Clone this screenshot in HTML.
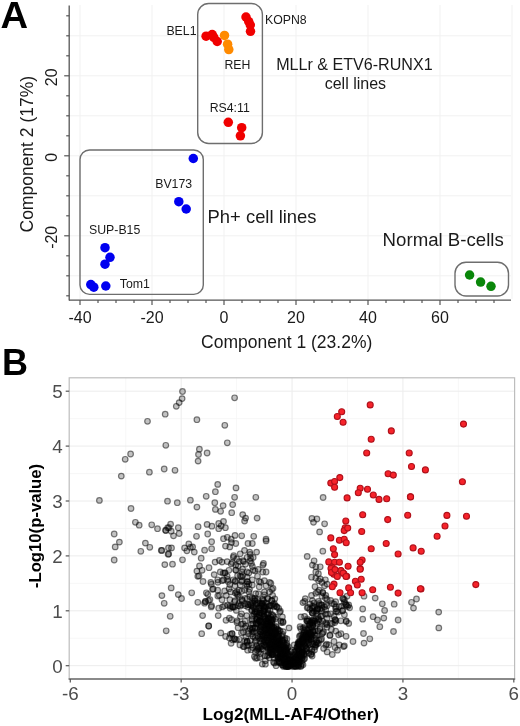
<!DOCTYPE html>
<html><head><meta charset="utf-8"><style>
html,body{margin:0;padding:0;background:#fff;}
svg{display:block;font-family:"Liberation Sans", sans-serif;filter:blur(0.45px);}
.g{fill:rgba(0,0,0,0.24);stroke:rgba(0,0,0,0.5);stroke-width:1.2;}
.r{fill:#f6232a;stroke:#b0101a;stroke-width:1.1;}
</style></head><body>
<svg width="520" height="726" viewBox="0 0 520 726">
<line x1="80.0" y1="5" x2="80.0" y2="299" stroke="#f1f1f1" stroke-width="1"/>
<line x1="152.0" y1="5" x2="152.0" y2="299" stroke="#f1f1f1" stroke-width="1"/>
<line x1="224.0" y1="5" x2="224.0" y2="299" stroke="#f1f1f1" stroke-width="1"/>
<line x1="296.0" y1="5" x2="296.0" y2="299" stroke="#f1f1f1" stroke-width="1"/>
<line x1="368.0" y1="5" x2="368.0" y2="299" stroke="#f1f1f1" stroke-width="1"/>
<line x1="440.0" y1="5" x2="440.0" y2="299" stroke="#f1f1f1" stroke-width="1"/>
<line x1="512.0" y1="5" x2="512.0" y2="299" stroke="#f1f1f1" stroke-width="1"/>
<line x1="70" y1="35.80000000000001" x2="511" y2="35.80000000000001" stroke="#f1f1f1" stroke-width="1"/>
<line x1="70" y1="75.80000000000001" x2="511" y2="75.80000000000001" stroke="#f1f1f1" stroke-width="1"/>
<line x1="70" y1="115.80000000000001" x2="511" y2="115.80000000000001" stroke="#f1f1f1" stroke-width="1"/>
<line x1="70" y1="155.8" x2="511" y2="155.8" stroke="#f1f1f1" stroke-width="1"/>
<line x1="70" y1="195.8" x2="511" y2="195.8" stroke="#f1f1f1" stroke-width="1"/>
<line x1="70" y1="235.8" x2="511" y2="235.8" stroke="#f1f1f1" stroke-width="1"/>
<line x1="70" y1="275.8" x2="511" y2="275.8" stroke="#f1f1f1" stroke-width="1"/>
<line x1="69.2" y1="5.5" x2="69.2" y2="300.6" stroke="#555" stroke-width="1.3"/>
<line x1="69" y1="300.1" x2="511" y2="300.1" stroke="#555" stroke-width="1.3"/>
<line x1="66.2" y1="15.800000000000011" x2="69.2" y2="15.800000000000011" stroke="#555" stroke-width="1.2"/>
<line x1="66.2" y1="35.80000000000001" x2="69.2" y2="35.80000000000001" stroke="#555" stroke-width="1.2"/>
<line x1="66.2" y1="55.80000000000001" x2="69.2" y2="55.80000000000001" stroke="#555" stroke-width="1.2"/>
<line x1="64.2" y1="75.80000000000001" x2="69.2" y2="75.80000000000001" stroke="#555" stroke-width="1.2"/>
<line x1="66.2" y1="95.80000000000001" x2="69.2" y2="95.80000000000001" stroke="#555" stroke-width="1.2"/>
<line x1="66.2" y1="115.80000000000001" x2="69.2" y2="115.80000000000001" stroke="#555" stroke-width="1.2"/>
<line x1="66.2" y1="135.8" x2="69.2" y2="135.8" stroke="#555" stroke-width="1.2"/>
<line x1="64.2" y1="155.8" x2="69.2" y2="155.8" stroke="#555" stroke-width="1.2"/>
<line x1="66.2" y1="175.8" x2="69.2" y2="175.8" stroke="#555" stroke-width="1.2"/>
<line x1="66.2" y1="195.8" x2="69.2" y2="195.8" stroke="#555" stroke-width="1.2"/>
<line x1="66.2" y1="215.8" x2="69.2" y2="215.8" stroke="#555" stroke-width="1.2"/>
<line x1="64.2" y1="235.8" x2="69.2" y2="235.8" stroke="#555" stroke-width="1.2"/>
<line x1="66.2" y1="255.8" x2="69.2" y2="255.8" stroke="#555" stroke-width="1.2"/>
<line x1="66.2" y1="275.8" x2="69.2" y2="275.8" stroke="#555" stroke-width="1.2"/>
<line x1="66.2" y1="295.8" x2="69.2" y2="295.8" stroke="#555" stroke-width="1.2"/>
<line x1="80.0" y1="300.1" x2="80.0" y2="305.1" stroke="#555" stroke-width="1.2"/>
<line x1="98.0" y1="300.1" x2="98.0" y2="303.1" stroke="#555" stroke-width="1.2"/>
<line x1="116.0" y1="300.1" x2="116.0" y2="303.1" stroke="#555" stroke-width="1.2"/>
<line x1="134.0" y1="300.1" x2="134.0" y2="303.1" stroke="#555" stroke-width="1.2"/>
<line x1="152.0" y1="300.1" x2="152.0" y2="305.1" stroke="#555" stroke-width="1.2"/>
<line x1="170.0" y1="300.1" x2="170.0" y2="303.1" stroke="#555" stroke-width="1.2"/>
<line x1="188.0" y1="300.1" x2="188.0" y2="303.1" stroke="#555" stroke-width="1.2"/>
<line x1="206.0" y1="300.1" x2="206.0" y2="303.1" stroke="#555" stroke-width="1.2"/>
<line x1="224.0" y1="300.1" x2="224.0" y2="305.1" stroke="#555" stroke-width="1.2"/>
<line x1="242.0" y1="300.1" x2="242.0" y2="303.1" stroke="#555" stroke-width="1.2"/>
<line x1="260.0" y1="300.1" x2="260.0" y2="303.1" stroke="#555" stroke-width="1.2"/>
<line x1="278.0" y1="300.1" x2="278.0" y2="303.1" stroke="#555" stroke-width="1.2"/>
<line x1="296.0" y1="300.1" x2="296.0" y2="305.1" stroke="#555" stroke-width="1.2"/>
<line x1="314.0" y1="300.1" x2="314.0" y2="303.1" stroke="#555" stroke-width="1.2"/>
<line x1="332.0" y1="300.1" x2="332.0" y2="303.1" stroke="#555" stroke-width="1.2"/>
<line x1="350.0" y1="300.1" x2="350.0" y2="303.1" stroke="#555" stroke-width="1.2"/>
<line x1="368.0" y1="300.1" x2="368.0" y2="305.1" stroke="#555" stroke-width="1.2"/>
<line x1="386.0" y1="300.1" x2="386.0" y2="303.1" stroke="#555" stroke-width="1.2"/>
<line x1="404.0" y1="300.1" x2="404.0" y2="303.1" stroke="#555" stroke-width="1.2"/>
<line x1="422.0" y1="300.1" x2="422.0" y2="303.1" stroke="#555" stroke-width="1.2"/>
<line x1="440.0" y1="300.1" x2="440.0" y2="305.1" stroke="#555" stroke-width="1.2"/>
<line x1="458.0" y1="300.1" x2="458.0" y2="303.1" stroke="#555" stroke-width="1.2"/>
<line x1="476.0" y1="300.1" x2="476.0" y2="303.1" stroke="#555" stroke-width="1.2"/>
<line x1="494.0" y1="300.1" x2="494.0" y2="303.1" stroke="#555" stroke-width="1.2"/>
<text x="80.0" y="322.5" font-size="16" text-anchor="middle" fill="#1a1a1a">-40</text>
<text x="152.0" y="322.5" font-size="16" text-anchor="middle" fill="#1a1a1a">-20</text>
<text x="224.0" y="322.5" font-size="16" text-anchor="middle" fill="#1a1a1a">0</text>
<text x="296.0" y="322.5" font-size="16" text-anchor="middle" fill="#1a1a1a">20</text>
<text x="368.0" y="322.5" font-size="16" text-anchor="middle" fill="#1a1a1a">40</text>
<text x="440.0" y="322.5" font-size="16" text-anchor="middle" fill="#1a1a1a">60</text>
<text transform="translate(57.3,77.30000000000001) rotate(-90)" font-size="16" text-anchor="middle" fill="#1a1a1a">20</text>
<text transform="translate(57.3,157.3) rotate(-90)" font-size="16" text-anchor="middle" fill="#1a1a1a">0</text>
<text transform="translate(57.3,237.3) rotate(-90)" font-size="16" text-anchor="middle" fill="#1a1a1a">-20</text>
<text x="286.7" y="348.3" font-size="17.5" text-anchor="middle" fill="#1a1a1a">Component 1 (23.2%)</text>
<text transform="translate(33.4,154.2) rotate(-90)" font-size="17.5" text-anchor="middle" fill="#1a1a1a">Component 2 (17%)</text>
<rect x="197.7" y="3.5" width="64.7" height="140" rx="11" ry="11" fill="none" stroke="#6e6e6e" stroke-width="1.4"/>
<rect x="80" y="150" width="123.3" height="144.4" rx="9.5" ry="9.5" fill="none" stroke="#6e6e6e" stroke-width="1.4"/>
<rect x="455" y="262.3" width="53.5" height="33.7" rx="11" ry="11" fill="none" stroke="#6e6e6e" stroke-width="1.4"/>
<circle cx="246" cy="17" r="4.75" fill="#f00000"/>
<circle cx="248.7" cy="21.5" r="4.75" fill="#f00000"/>
<circle cx="250.3" cy="25" r="4.75" fill="#f00000"/>
<circle cx="250.5" cy="31.3" r="4.75" fill="#f00000"/>
<circle cx="206.1" cy="36.2" r="4.75" fill="#f00000"/>
<circle cx="212.2" cy="34.6" r="4.75" fill="#f00000"/>
<circle cx="213.8" cy="37.3" r="4.75" fill="#f00000"/>
<circle cx="217.2" cy="41.5" r="4.75" fill="#f00000"/>
<circle cx="228.3" cy="122.3" r="4.75" fill="#f00000"/>
<circle cx="241.7" cy="127.7" r="4.75" fill="#f00000"/>
<circle cx="240.4" cy="135.8" r="4.75" fill="#f00000"/>
<circle cx="224.5" cy="35.4" r="4.75" fill="#ff8a00"/>
<circle cx="227.6" cy="44.2" r="4.75" fill="#ff8a00"/>
<circle cx="228.8" cy="49.6" r="4.75" fill="#ff8a00"/>
<circle cx="193.3" cy="158.5" r="4.75" fill="#0000f0"/>
<circle cx="178.8" cy="201.7" r="4.75" fill="#0000f0"/>
<circle cx="186.2" cy="209" r="4.75" fill="#0000f0"/>
<circle cx="105" cy="247.7" r="4.75" fill="#0000f0"/>
<circle cx="110" cy="257.3" r="4.75" fill="#0000f0"/>
<circle cx="105" cy="264.2" r="4.75" fill="#0000f0"/>
<circle cx="90.8" cy="284.6" r="4.75" fill="#0000f0"/>
<circle cx="93.8" cy="287.2" r="4.75" fill="#0000f0"/>
<circle cx="105.8" cy="286" r="4.75" fill="#0000f0"/>
<circle cx="469.6" cy="275" r="4.75" fill="#0a870a"/>
<circle cx="480.6" cy="282.1" r="4.75" fill="#0a870a"/>
<circle cx="491" cy="286.3" r="4.75" fill="#0a870a"/>
<text x="166.4" y="35.1" font-size="12.3" fill="#1a1a1a">BEL1</text>
<text x="265.0" y="23.5" font-size="12.3" fill="#1a1a1a">KOPN8</text>
<text x="224.4" y="68.6" font-size="12.3" fill="#1a1a1a">REH</text>
<text x="209.7" y="111.5" font-size="12.3" fill="#1a1a1a">RS4:11</text>
<text x="155.2" y="188.1" font-size="12.3" fill="#1a1a1a">BV173</text>
<text x="89.0" y="234.0" font-size="12.3" fill="#1a1a1a">SUP-B15</text>
<text x="119.8" y="287.6" font-size="12.3" fill="#1a1a1a">Tom1</text>
<text x="354.4" y="70.2" font-size="16.1" text-anchor="middle" fill="#1a1a1a">MLLr &amp; ETV6-RUNX1</text>
<text x="355.4" y="89.4" font-size="16" text-anchor="middle" fill="#1a1a1a">cell lines</text>
<text x="207.6" y="223" font-size="18.4" fill="#1a1a1a">Ph+ cell lines</text>
<text x="382.6" y="245.8" font-size="18.65" fill="#1a1a1a">Normal B-cells</text>
<text x="0.6" y="27.8" font-size="36" font-weight="bold" fill="#000" textLength="27.6" lengthAdjust="spacingAndGlyphs">A</text>
<line x1="125.73000000000002" y1="377.8" x2="125.73000000000002" y2="679.0" stroke="#f5f5f5" stroke-width="0.8"/>
<line x1="236.61" y1="377.8" x2="236.61" y2="679.0" stroke="#f5f5f5" stroke-width="0.8"/>
<line x1="347.49" y1="377.8" x2="347.49" y2="679.0" stroke="#f5f5f5" stroke-width="0.8"/>
<line x1="458.37" y1="377.8" x2="458.37" y2="679.0" stroke="#f5f5f5" stroke-width="0.8"/>
<line x1="69.2" y1="638.25" x2="514.6" y2="638.25" stroke="#f5f5f5" stroke-width="0.8"/>
<line x1="69.2" y1="583.35" x2="514.6" y2="583.35" stroke="#f5f5f5" stroke-width="0.8"/>
<line x1="69.2" y1="528.45" x2="514.6" y2="528.45" stroke="#f5f5f5" stroke-width="0.8"/>
<line x1="69.2" y1="473.55000000000007" x2="514.6" y2="473.55000000000007" stroke="#f5f5f5" stroke-width="0.8"/>
<line x1="69.2" y1="418.6500000000001" x2="514.6" y2="418.6500000000001" stroke="#f5f5f5" stroke-width="0.8"/>
<line x1="181.17000000000002" y1="377.8" x2="181.17000000000002" y2="679.0" stroke="#ececec" stroke-width="1"/>
<line x1="292.05" y1="377.8" x2="292.05" y2="679.0" stroke="#ececec" stroke-width="1"/>
<line x1="402.93" y1="377.8" x2="402.93" y2="679.0" stroke="#ececec" stroke-width="1"/>
<line x1="69.2" y1="665.7" x2="514.6" y2="665.7" stroke="#ececec" stroke-width="1"/>
<line x1="69.2" y1="610.8000000000001" x2="514.6" y2="610.8000000000001" stroke="#ececec" stroke-width="1"/>
<line x1="69.2" y1="555.9000000000001" x2="514.6" y2="555.9000000000001" stroke="#ececec" stroke-width="1"/>
<line x1="69.2" y1="501.00000000000006" x2="514.6" y2="501.00000000000006" stroke="#ececec" stroke-width="1"/>
<line x1="69.2" y1="446.1" x2="514.6" y2="446.1" stroke="#ececec" stroke-width="1"/>
<line x1="69.2" y1="391.20000000000005" x2="514.6" y2="391.20000000000005" stroke="#ececec" stroke-width="1"/>
<circle cx="165.2" cy="414.2" r="2.8" class="g"/>
<circle cx="147.5" cy="421.3" r="2.8" class="g"/>
<circle cx="165.8" cy="445.3" r="2.8" class="g"/>
<circle cx="130.6" cy="454.0" r="2.8" class="g"/>
<circle cx="125.2" cy="459.3" r="2.8" class="g"/>
<circle cx="164.2" cy="469.0" r="2.8" class="g"/>
<circle cx="149.4" cy="472.2" r="2.8" class="g"/>
<circle cx="121.3" cy="476.1" r="2.8" class="g"/>
<circle cx="182.5" cy="391.5" r="2.8" class="g"/>
<circle cx="182.1" cy="398.6" r="2.8" class="g"/>
<circle cx="179.2" cy="402.6" r="2.8" class="g"/>
<circle cx="176.3" cy="406.3" r="2.8" class="g"/>
<circle cx="234.6" cy="397.8" r="2.8" class="g"/>
<circle cx="196.9" cy="419.7" r="2.8" class="g"/>
<circle cx="224.8" cy="425.3" r="2.8" class="g"/>
<circle cx="227.3" cy="442.8" r="2.8" class="g"/>
<circle cx="199.4" cy="449.2" r="2.8" class="g"/>
<circle cx="207.1" cy="453.0" r="2.8" class="g"/>
<circle cx="198.5" cy="454.5" r="2.8" class="g"/>
<circle cx="198.1" cy="461.1" r="2.8" class="g"/>
<circle cx="175.0" cy="470.3" r="2.8" class="g"/>
<circle cx="99.4" cy="500.4" r="2.8" class="g"/>
<circle cx="167.5" cy="501.2" r="2.8" class="g"/>
<circle cx="131.0" cy="508.5" r="2.8" class="g"/>
<circle cx="135.4" cy="522.3" r="2.8" class="g"/>
<circle cx="139.2" cy="525.2" r="2.8" class="g"/>
<circle cx="151.7" cy="524.8" r="2.8" class="g"/>
<circle cx="157.5" cy="528.7" r="2.8" class="g"/>
<circle cx="165.6" cy="530.2" r="2.8" class="g"/>
<circle cx="169.0" cy="527.7" r="2.8" class="g"/>
<circle cx="114.2" cy="534.0" r="2.8" class="g"/>
<circle cx="119.4" cy="542.1" r="2.8" class="g"/>
<circle cx="115.2" cy="546.9" r="2.8" class="g"/>
<circle cx="145.4" cy="543.1" r="2.8" class="g"/>
<circle cx="149.8" cy="547.3" r="2.8" class="g"/>
<circle cx="140.8" cy="551.3" r="2.8" class="g"/>
<circle cx="161.3" cy="550.4" r="2.8" class="g"/>
<circle cx="168.5" cy="547.9" r="2.8" class="g"/>
<circle cx="168.1" cy="554.2" r="2.8" class="g"/>
<circle cx="114.2" cy="560.0" r="2.8" class="g"/>
<circle cx="164.8" cy="564.6" r="2.8" class="g"/>
<circle cx="217.7" cy="484.4" r="2.8" class="g"/>
<circle cx="236.0" cy="487.9" r="2.8" class="g"/>
<circle cx="215.4" cy="491.7" r="2.8" class="g"/>
<circle cx="206.2" cy="496.3" r="2.8" class="g"/>
<circle cx="234.6" cy="497.3" r="2.8" class="g"/>
<circle cx="255.8" cy="497.3" r="2.8" class="g"/>
<circle cx="177.3" cy="502.7" r="2.8" class="g"/>
<circle cx="190.4" cy="500.2" r="2.8" class="g"/>
<circle cx="196.9" cy="507.1" r="2.8" class="g"/>
<circle cx="214.8" cy="502.7" r="2.8" class="g"/>
<circle cx="223.1" cy="505.6" r="2.8" class="g"/>
<circle cx="232.7" cy="504.6" r="2.8" class="g"/>
<circle cx="215.4" cy="509.4" r="2.8" class="g"/>
<circle cx="220.6" cy="511.3" r="2.8" class="g"/>
<circle cx="231.7" cy="512.7" r="2.8" class="g"/>
<circle cx="242.7" cy="514.6" r="2.8" class="g"/>
<circle cx="245.6" cy="518.1" r="2.8" class="g"/>
<circle cx="244.6" cy="521.0" r="2.8" class="g"/>
<circle cx="257.1" cy="518.1" r="2.8" class="g"/>
<circle cx="170.6" cy="524.2" r="2.8" class="g"/>
<circle cx="167.7" cy="527.7" r="2.8" class="g"/>
<circle cx="165.8" cy="530.6" r="2.8" class="g"/>
<circle cx="171.2" cy="531.2" r="2.8" class="g"/>
<circle cx="178.3" cy="527.7" r="2.8" class="g"/>
<circle cx="179.2" cy="533.5" r="2.8" class="g"/>
<circle cx="173.5" cy="535.8" r="2.8" class="g"/>
<circle cx="198.1" cy="526.7" r="2.8" class="g"/>
<circle cx="207.1" cy="524.4" r="2.8" class="g"/>
<circle cx="211.9" cy="526.2" r="2.8" class="g"/>
<circle cx="218.7" cy="523.5" r="2.8" class="g"/>
<circle cx="223.5" cy="521.5" r="2.8" class="g"/>
<circle cx="221.2" cy="525.8" r="2.8" class="g"/>
<circle cx="218.7" cy="528.7" r="2.8" class="g"/>
<circle cx="225.4" cy="527.7" r="2.8" class="g"/>
<circle cx="196.5" cy="536.3" r="2.8" class="g"/>
<circle cx="207.7" cy="534.0" r="2.8" class="g"/>
<circle cx="223.5" cy="538.7" r="2.8" class="g"/>
<circle cx="227.3" cy="537.3" r="2.8" class="g"/>
<circle cx="235.0" cy="535.4" r="2.8" class="g"/>
<circle cx="241.7" cy="535.8" r="2.8" class="g"/>
<circle cx="253.7" cy="536.3" r="2.8" class="g"/>
<circle cx="231.2" cy="539.2" r="2.8" class="g"/>
<circle cx="188.8" cy="544.0" r="2.8" class="g"/>
<circle cx="184.6" cy="547.9" r="2.8" class="g"/>
<circle cx="186.9" cy="550.8" r="2.8" class="g"/>
<circle cx="161.9" cy="550.4" r="2.8" class="g"/>
<circle cx="171.5" cy="547.9" r="2.8" class="g"/>
<circle cx="168.7" cy="554.0" r="2.8" class="g"/>
<circle cx="182.5" cy="559.8" r="2.8" class="g"/>
<circle cx="172.5" cy="564.2" r="2.8" class="g"/>
<circle cx="266.0" cy="539.2" r="2.8" class="g"/>
<circle cx="323.1" cy="497.5" r="2.8" class="g"/>
<circle cx="311.9" cy="518.5" r="2.8" class="g"/>
<circle cx="316.9" cy="519.0" r="2.8" class="g"/>
<circle cx="313.5" cy="522.3" r="2.8" class="g"/>
<circle cx="324.6" cy="523.8" r="2.8" class="g"/>
<circle cx="319.6" cy="531.9" r="2.8" class="g"/>
<circle cx="171.2" cy="587.9" r="2.8" class="g"/>
<circle cx="161.9" cy="595.6" r="2.8" class="g"/>
<circle cx="178.3" cy="594.6" r="2.8" class="g"/>
<circle cx="181.5" cy="598.5" r="2.8" class="g"/>
<circle cx="164.2" cy="603.3" r="2.8" class="g"/>
<circle cx="170.2" cy="616.3" r="2.8" class="g"/>
<circle cx="166.2" cy="630.8" r="2.8" class="g"/>
<circle cx="364.0" cy="596.2" r="2.8" class="g"/>
<circle cx="375.2" cy="598.1" r="2.8" class="g"/>
<circle cx="362.7" cy="609.0" r="2.8" class="g"/>
<circle cx="382.3" cy="603.8" r="2.8" class="g"/>
<circle cx="384.6" cy="610.4" r="2.8" class="g"/>
<circle cx="394.2" cy="604.2" r="2.8" class="g"/>
<circle cx="411.5" cy="602.3" r="2.8" class="g"/>
<circle cx="416.5" cy="599.0" r="2.8" class="g"/>
<circle cx="413.5" cy="608.1" r="2.8" class="g"/>
<circle cx="438.7" cy="612.1" r="2.8" class="g"/>
<circle cx="362.7" cy="619.2" r="2.8" class="g"/>
<circle cx="373.1" cy="616.7" r="2.8" class="g"/>
<circle cx="377.5" cy="620.0" r="2.8" class="g"/>
<circle cx="383.8" cy="618.1" r="2.8" class="g"/>
<circle cx="379.8" cy="626.7" r="2.8" class="g"/>
<circle cx="398.1" cy="620.0" r="2.8" class="g"/>
<circle cx="393.5" cy="631.5" r="2.8" class="g"/>
<circle cx="438.8" cy="627.9" r="2.8" class="g"/>
<circle cx="363.5" cy="633.5" r="2.8" class="g"/>
<circle cx="369.8" cy="638.8" r="2.8" class="g"/>
<circle cx="364.0" cy="643.1" r="2.8" class="g"/>
<circle cx="211.6" cy="541.7" r="2.8" class="g"/>
<circle cx="231.5" cy="542.6" r="2.8" class="g"/>
<circle cx="235.8" cy="543.5" r="2.8" class="g"/>
<circle cx="248.0" cy="543.5" r="2.8" class="g"/>
<circle cx="252.3" cy="543.5" r="2.8" class="g"/>
<circle cx="266.1" cy="540.9" r="2.8" class="g"/>
<circle cx="211.6" cy="548.7" r="2.8" class="g"/>
<circle cx="204.6" cy="550.2" r="2.8" class="g"/>
<circle cx="225.5" cy="546.1" r="2.8" class="g"/>
<circle cx="229.8" cy="546.9" r="2.8" class="g"/>
<circle cx="192.6" cy="546.9" r="2.8" class="g"/>
<circle cx="190.4" cy="547.4" r="2.8" class="g"/>
<circle cx="194.3" cy="552.1" r="2.8" class="g"/>
<circle cx="244.5" cy="550.4" r="2.8" class="g"/>
<circle cx="249.7" cy="552.1" r="2.8" class="g"/>
<circle cx="250.2" cy="554.5" r="2.8" class="g"/>
<circle cx="256.6" cy="552.1" r="2.8" class="g"/>
<circle cx="240.2" cy="553.8" r="2.8" class="g"/>
<circle cx="233.3" cy="557.3" r="2.8" class="g"/>
<circle cx="233.7" cy="555.7" r="2.8" class="g"/>
<circle cx="236.7" cy="559.0" r="2.8" class="g"/>
<circle cx="247.1" cy="557.3" r="2.8" class="g"/>
<circle cx="253.2" cy="557.4" r="2.8" class="g"/>
<circle cx="250.6" cy="558.2" r="2.8" class="g"/>
<circle cx="252.4" cy="566.5" r="2.8" class="g"/>
<circle cx="201.2" cy="558.2" r="2.8" class="g"/>
<circle cx="239.3" cy="561.6" r="2.8" class="g"/>
<circle cx="242.9" cy="560.7" r="2.8" class="g"/>
<circle cx="243.6" cy="561.6" r="2.8" class="g"/>
<circle cx="215.1" cy="562.1" r="2.8" class="g"/>
<circle cx="219.4" cy="560.5" r="2.8" class="g"/>
<circle cx="222.0" cy="562.1" r="2.8" class="g"/>
<circle cx="227.2" cy="561.6" r="2.8" class="g"/>
<circle cx="232.4" cy="562.5" r="2.8" class="g"/>
<circle cx="231.2" cy="563.9" r="2.8" class="g"/>
<circle cx="235.8" cy="565.1" r="2.8" class="g"/>
<circle cx="238.2" cy="566.1" r="2.8" class="g"/>
<circle cx="245.4" cy="564.2" r="2.8" class="g"/>
<circle cx="251.4" cy="563.4" r="2.8" class="g"/>
<circle cx="250.2" cy="560.9" r="2.8" class="g"/>
<circle cx="263.5" cy="563.4" r="2.8" class="g"/>
<circle cx="199.5" cy="566.0" r="2.8" class="g"/>
<circle cx="209.0" cy="567.7" r="2.8" class="g"/>
<circle cx="202.1" cy="570.3" r="2.8" class="g"/>
<circle cx="196.9" cy="571.1" r="2.8" class="g"/>
<circle cx="220.3" cy="572.0" r="2.8" class="g"/>
<circle cx="224.6" cy="572.9" r="2.8" class="g"/>
<circle cx="225.2" cy="572.8" r="2.8" class="g"/>
<circle cx="228.9" cy="570.3" r="2.8" class="g"/>
<circle cx="235.8" cy="570.3" r="2.8" class="g"/>
<circle cx="241.9" cy="572.0" r="2.8" class="g"/>
<circle cx="242.6" cy="569.2" r="2.8" class="g"/>
<circle cx="248.8" cy="572.9" r="2.8" class="g"/>
<circle cx="253.1" cy="570.3" r="2.8" class="g"/>
<circle cx="255.0" cy="570.8" r="2.8" class="g"/>
<circle cx="258.3" cy="569.4" r="2.8" class="g"/>
<circle cx="262.7" cy="572.0" r="2.8" class="g"/>
<circle cx="262.9" cy="565.1" r="2.8" class="g"/>
<circle cx="266.1" cy="572.0" r="2.8" class="g"/>
<circle cx="214.2" cy="574.6" r="2.8" class="g"/>
<circle cx="227.2" cy="576.3" r="2.8" class="g"/>
<circle cx="237.6" cy="575.5" r="2.8" class="g"/>
<circle cx="242.8" cy="575.5" r="2.8" class="g"/>
<circle cx="247.1" cy="577.2" r="2.8" class="g"/>
<circle cx="247.0" cy="571.8" r="2.8" class="g"/>
<circle cx="257.5" cy="576.3" r="2.8" class="g"/>
<circle cx="197.8" cy="576.3" r="2.8" class="g"/>
<circle cx="199.0" cy="575.9" r="2.8" class="g"/>
<circle cx="210.8" cy="582.4" r="2.8" class="g"/>
<circle cx="217.7" cy="579.8" r="2.8" class="g"/>
<circle cx="222.0" cy="580.7" r="2.8" class="g"/>
<circle cx="228.1" cy="581.5" r="2.8" class="g"/>
<circle cx="233.3" cy="579.8" r="2.8" class="g"/>
<circle cx="241.9" cy="580.7" r="2.8" class="g"/>
<circle cx="247.1" cy="581.5" r="2.8" class="g"/>
<circle cx="252.3" cy="579.8" r="2.8" class="g"/>
<circle cx="259.2" cy="581.5" r="2.8" class="g"/>
<circle cx="260.7" cy="582.3" r="2.8" class="g"/>
<circle cx="264.4" cy="580.7" r="2.8" class="g"/>
<circle cx="269.6" cy="582.4" r="2.8" class="g"/>
<circle cx="203.0" cy="581.5" r="2.8" class="g"/>
<circle cx="211.4" cy="584.2" r="2.8" class="g"/>
<circle cx="235.0" cy="585.8" r="2.8" class="g"/>
<circle cx="240.2" cy="585.0" r="2.8" class="g"/>
<circle cx="252.3" cy="585.0" r="2.8" class="g"/>
<circle cx="247.6" cy="581.9" r="2.8" class="g"/>
<circle cx="259.2" cy="586.7" r="2.8" class="g"/>
<circle cx="266.1" cy="585.8" r="2.8" class="g"/>
<circle cx="212.5" cy="589.3" r="2.8" class="g"/>
<circle cx="213.2" cy="588.9" r="2.8" class="g"/>
<circle cx="217.7" cy="590.2" r="2.8" class="g"/>
<circle cx="224.6" cy="591.0" r="2.8" class="g"/>
<circle cx="230.7" cy="591.9" r="2.8" class="g"/>
<circle cx="229.8" cy="584.6" r="2.8" class="g"/>
<circle cx="236.7" cy="591.9" r="2.8" class="g"/>
<circle cx="241.9" cy="591.0" r="2.8" class="g"/>
<circle cx="219.4" cy="595.4" r="2.8" class="g"/>
<circle cx="217.8" cy="596.0" r="2.8" class="g"/>
<circle cx="226.3" cy="595.4" r="2.8" class="g"/>
<circle cx="248.8" cy="591.9" r="2.8" class="g"/>
<circle cx="237.9" cy="595.2" r="2.8" class="g"/>
<circle cx="255.7" cy="593.6" r="2.8" class="g"/>
<circle cx="264.4" cy="591.9" r="2.8" class="g"/>
<circle cx="269.6" cy="591.9" r="2.8" class="g"/>
<circle cx="273.0" cy="588.4" r="2.8" class="g"/>
<circle cx="191.7" cy="592.8" r="2.8" class="g"/>
<circle cx="206.4" cy="592.8" r="2.8" class="g"/>
<circle cx="209.9" cy="599.7" r="2.8" class="g"/>
<circle cx="208.5" cy="600.6" r="2.8" class="g"/>
<circle cx="197.8" cy="602.3" r="2.8" class="g"/>
<circle cx="205.6" cy="601.4" r="2.8" class="g"/>
<circle cx="211.6" cy="605.7" r="2.8" class="g"/>
<circle cx="222.0" cy="599.7" r="2.8" class="g"/>
<circle cx="229.8" cy="599.7" r="2.8" class="g"/>
<circle cx="235.0" cy="600.6" r="2.8" class="g"/>
<circle cx="241.9" cy="599.7" r="2.8" class="g"/>
<circle cx="241.2" cy="604.9" r="2.8" class="g"/>
<circle cx="247.1" cy="598.8" r="2.8" class="g"/>
<circle cx="252.3" cy="598.0" r="2.8" class="g"/>
<circle cx="257.5" cy="599.7" r="2.8" class="g"/>
<circle cx="262.7" cy="598.8" r="2.8" class="g"/>
<circle cx="267.9" cy="598.8" r="2.8" class="g"/>
<circle cx="274.8" cy="598.8" r="2.8" class="g"/>
<circle cx="224.6" cy="605.7" r="2.8" class="g"/>
<circle cx="231.5" cy="606.6" r="2.8" class="g"/>
<circle cx="238.4" cy="605.7" r="2.8" class="g"/>
<circle cx="245.4" cy="605.7" r="2.8" class="g"/>
<circle cx="240.2" cy="606.2" r="2.8" class="g"/>
<circle cx="250.6" cy="604.0" r="2.8" class="g"/>
<circle cx="255.7" cy="604.9" r="2.8" class="g"/>
<circle cx="259.8" cy="603.4" r="2.8" class="g"/>
<circle cx="260.9" cy="605.7" r="2.8" class="g"/>
<circle cx="266.1" cy="606.6" r="2.8" class="g"/>
<circle cx="263.9" cy="605.9" r="2.8" class="g"/>
<circle cx="271.3" cy="605.7" r="2.8" class="g"/>
<circle cx="276.5" cy="606.6" r="2.8" class="g"/>
<circle cx="322.8" cy="551.2" r="2.8" class="g"/>
<circle cx="307.2" cy="556.4" r="2.8" class="g"/>
<circle cx="314.1" cy="560.8" r="2.8" class="g"/>
<circle cx="312.4" cy="565.1" r="2.8" class="g"/>
<circle cx="315.8" cy="566.8" r="2.8" class="g"/>
<circle cx="320.2" cy="566.8" r="2.8" class="g"/>
<circle cx="315.8" cy="572.0" r="2.8" class="g"/>
<circle cx="318.4" cy="573.7" r="2.8" class="g"/>
<circle cx="311.5" cy="577.2" r="2.8" class="g"/>
<circle cx="315.8" cy="578.1" r="2.8" class="g"/>
<circle cx="320.2" cy="578.9" r="2.8" class="g"/>
<circle cx="325.4" cy="579.8" r="2.8" class="g"/>
<circle cx="321.9" cy="582.4" r="2.8" class="g"/>
<circle cx="327.1" cy="584.1" r="2.8" class="g"/>
<circle cx="324.5" cy="585.8" r="2.8" class="g"/>
<circle cx="315.0" cy="586.7" r="2.8" class="g"/>
<circle cx="318.6" cy="580.7" r="2.8" class="g"/>
<circle cx="319.3" cy="590.2" r="2.8" class="g"/>
<circle cx="317.6" cy="591.9" r="2.8" class="g"/>
<circle cx="322.8" cy="592.8" r="2.8" class="g"/>
<circle cx="311.5" cy="595.4" r="2.8" class="g"/>
<circle cx="321.9" cy="596.2" r="2.8" class="g"/>
<circle cx="322.7" cy="592.3" r="2.8" class="g"/>
<circle cx="325.4" cy="598.0" r="2.8" class="g"/>
<circle cx="312.4" cy="600.6" r="2.8" class="g"/>
<circle cx="304.6" cy="601.4" r="2.8" class="g"/>
<circle cx="318.4" cy="601.4" r="2.8" class="g"/>
<circle cx="321.9" cy="604.9" r="2.8" class="g"/>
<circle cx="327.1" cy="605.7" r="2.8" class="g"/>
<circle cx="334.0" cy="604.0" r="2.8" class="g"/>
<circle cx="335.7" cy="606.7" r="2.8" class="g"/>
<circle cx="339.2" cy="606.6" r="2.8" class="g"/>
<circle cx="344.4" cy="602.3" r="2.8" class="g"/>
<circle cx="342.7" cy="598.4" r="2.8" class="g"/>
<circle cx="348.7" cy="604.9" r="2.8" class="g"/>
<circle cx="346.6" cy="605.3" r="2.8" class="g"/>
<circle cx="308.1" cy="607.5" r="2.8" class="g"/>
<circle cx="309.8" cy="609.4" r="2.8" class="g"/>
<circle cx="317.6" cy="608.3" r="2.8" class="g"/>
<circle cx="317.9" cy="609.1" r="2.8" class="g"/>
<circle cx="321.9" cy="608.3" r="2.8" class="g"/>
<circle cx="270.9" cy="583.3" r="2.8" class="g"/>
<circle cx="271.7" cy="589.3" r="2.8" class="g"/>
<circle cx="272.6" cy="595.4" r="2.8" class="g"/>
<circle cx="271.7" cy="600.6" r="2.8" class="g"/>
<circle cx="271.8" cy="600.5" r="2.8" class="g"/>
<circle cx="270.0" cy="605.7" r="2.8" class="g"/>
<circle cx="275.2" cy="605.7" r="2.8" class="g"/>
<circle cx="273.9" cy="606.5" r="2.8" class="g"/>
<circle cx="278.7" cy="608.3" r="2.8" class="g"/>
<circle cx="347.0" cy="596.2" r="2.8" class="g"/>
<circle cx="344.4" cy="599.7" r="2.8" class="g"/>
<circle cx="343.4" cy="598.8" r="2.8" class="g"/>
<circle cx="205.2" cy="601.7" r="2.8" class="g"/>
<circle cx="211.2" cy="606.9" r="2.8" class="g"/>
<circle cx="204.6" cy="603.2" r="2.8" class="g"/>
<circle cx="202.6" cy="615.6" r="2.8" class="g"/>
<circle cx="218.2" cy="615.6" r="2.8" class="g"/>
<circle cx="229.4" cy="618.2" r="2.8" class="g"/>
<circle cx="222.5" cy="606.9" r="2.8" class="g"/>
<circle cx="227.7" cy="605.2" r="2.8" class="g"/>
<circle cx="230.2" cy="608.3" r="2.8" class="g"/>
<circle cx="208.7" cy="626.0" r="2.8" class="g"/>
<circle cx="208.7" cy="626.0" r="2.8" class="g"/>
<circle cx="201.7" cy="633.7" r="2.8" class="g"/>
<circle cx="220.8" cy="632.9" r="2.8" class="g"/>
<circle cx="232.0" cy="633.7" r="2.8" class="g"/>
<circle cx="232.1" cy="633.7" r="2.8" class="g"/>
<circle cx="229.4" cy="638.1" r="2.8" class="g"/>
<circle cx="225.6" cy="636.4" r="2.8" class="g"/>
<circle cx="234.6" cy="638.9" r="2.8" class="g"/>
<circle cx="230.3" cy="634.3" r="2.8" class="g"/>
<circle cx="234.6" cy="638.9" r="2.8" class="g"/>
<circle cx="232.6" cy="639.8" r="2.8" class="g"/>
<circle cx="236.3" cy="639.8" r="2.8" class="g"/>
<circle cx="239.2" cy="639.3" r="2.8" class="g"/>
<circle cx="231.1" cy="643.3" r="2.8" class="g"/>
<circle cx="241.5" cy="632.9" r="2.8" class="g"/>
<circle cx="244.1" cy="646.7" r="2.8" class="g"/>
<circle cx="247.6" cy="650.2" r="2.8" class="g"/>
<circle cx="251.1" cy="649.8" r="2.8" class="g"/>
<circle cx="251.9" cy="645.0" r="2.8" class="g"/>
<circle cx="255.4" cy="651.9" r="2.8" class="g"/>
<circle cx="258.8" cy="651.6" r="2.8" class="g"/>
<circle cx="257.1" cy="658.0" r="2.8" class="g"/>
<circle cx="255.6" cy="658.2" r="2.8" class="g"/>
<circle cx="260.6" cy="653.6" r="2.8" class="g"/>
<circle cx="274.4" cy="663.1" r="2.8" class="g"/>
<circle cx="281.3" cy="622.5" r="2.8" class="g"/>
<circle cx="282.4" cy="617.0" r="2.8" class="g"/>
<circle cx="283.0" cy="621.6" r="2.8" class="g"/>
<circle cx="280.7" cy="621.1" r="2.8" class="g"/>
<circle cx="276.1" cy="617.3" r="2.8" class="g"/>
<circle cx="279.6" cy="612.1" r="2.8" class="g"/>
<circle cx="237.2" cy="620.8" r="2.8" class="g"/>
<circle cx="237.0" cy="622.5" r="2.8" class="g"/>
<circle cx="241.5" cy="624.2" r="2.8" class="g"/>
<circle cx="245.8" cy="626.0" r="2.8" class="g"/>
<circle cx="243.2" cy="623.8" r="2.8" class="g"/>
<circle cx="250.2" cy="628.5" r="2.8" class="g"/>
<circle cx="238.1" cy="627.7" r="2.8" class="g"/>
<circle cx="243.3" cy="632.0" r="2.8" class="g"/>
<circle cx="248.4" cy="633.7" r="2.8" class="g"/>
<circle cx="248.6" cy="631.2" r="2.8" class="g"/>
<circle cx="252.8" cy="636.3" r="2.8" class="g"/>
<circle cx="245.8" cy="637.2" r="2.8" class="g"/>
<circle cx="244.8" cy="640.7" r="2.8" class="g"/>
<circle cx="250.2" cy="640.7" r="2.8" class="g"/>
<circle cx="255.4" cy="641.5" r="2.8" class="g"/>
<circle cx="255.2" cy="637.5" r="2.8" class="g"/>
<circle cx="246.7" cy="642.4" r="2.8" class="g"/>
<circle cx="246.7" cy="645.7" r="2.8" class="g"/>
<circle cx="252.8" cy="647.6" r="2.8" class="g"/>
<circle cx="258.8" cy="646.7" r="2.8" class="g"/>
<circle cx="257.1" cy="650.2" r="2.8" class="g"/>
<circle cx="261.4" cy="649.3" r="2.8" class="g"/>
<circle cx="262.0" cy="646.2" r="2.8" class="g"/>
<circle cx="241.5" cy="613.8" r="2.8" class="g"/>
<circle cx="246.7" cy="615.6" r="2.8" class="g"/>
<circle cx="251.9" cy="619.0" r="2.8" class="g"/>
<circle cx="236.3" cy="610.4" r="2.8" class="g"/>
<circle cx="232.9" cy="606.9" r="2.8" class="g"/>
<circle cx="238.9" cy="603.5" r="2.8" class="g"/>
<circle cx="234.4" cy="607.1" r="2.8" class="g"/>
<circle cx="234.6" cy="601.7" r="2.8" class="g"/>
<circle cx="233.0" cy="607.1" r="2.8" class="g"/>
<circle cx="302.9" cy="602.6" r="2.8" class="g"/>
<circle cx="305.3" cy="598.6" r="2.8" class="g"/>
<circle cx="307.2" cy="607.8" r="2.8" class="g"/>
<circle cx="312.4" cy="613.0" r="2.8" class="g"/>
<circle cx="313.7" cy="606.5" r="2.8" class="g"/>
<circle cx="304.6" cy="616.4" r="2.8" class="g"/>
<circle cx="300.9" cy="616.9" r="2.8" class="g"/>
<circle cx="307.2" cy="619.0" r="2.8" class="g"/>
<circle cx="315.0" cy="620.8" r="2.8" class="g"/>
<circle cx="317.3" cy="624.0" r="2.8" class="g"/>
<circle cx="321.0" cy="616.4" r="2.8" class="g"/>
<circle cx="319.3" cy="603.5" r="2.8" class="g"/>
<circle cx="320.0" cy="609.0" r="2.8" class="g"/>
<circle cx="324.5" cy="606.9" r="2.8" class="g"/>
<circle cx="321.9" cy="611.2" r="2.8" class="g"/>
<circle cx="327.1" cy="618.2" r="2.8" class="g"/>
<circle cx="325.7" cy="610.0" r="2.8" class="g"/>
<circle cx="325.4" cy="624.2" r="2.8" class="g"/>
<circle cx="330.6" cy="623.4" r="2.8" class="g"/>
<circle cx="334.9" cy="622.5" r="2.8" class="g"/>
<circle cx="336.0" cy="620.7" r="2.8" class="g"/>
<circle cx="320.2" cy="627.7" r="2.8" class="g"/>
<circle cx="311.5" cy="627.7" r="2.8" class="g"/>
<circle cx="302.9" cy="628.5" r="2.8" class="g"/>
<circle cx="300.3" cy="635.5" r="2.8" class="g"/>
<circle cx="298.5" cy="641.9" r="2.8" class="g"/>
<circle cx="306.3" cy="634.6" r="2.8" class="g"/>
<circle cx="304.0" cy="632.6" r="2.8" class="g"/>
<circle cx="313.3" cy="632.0" r="2.8" class="g"/>
<circle cx="312.6" cy="631.4" r="2.8" class="g"/>
<circle cx="323.6" cy="632.0" r="2.8" class="g"/>
<circle cx="322.8" cy="632.8" r="2.8" class="g"/>
<circle cx="331.4" cy="629.4" r="2.8" class="g"/>
<circle cx="327.0" cy="627.2" r="2.8" class="g"/>
<circle cx="335.7" cy="631.1" r="2.8" class="g"/>
<circle cx="340.9" cy="633.7" r="2.8" class="g"/>
<circle cx="338.6" cy="634.8" r="2.8" class="g"/>
<circle cx="346.1" cy="636.3" r="2.8" class="g"/>
<circle cx="353.0" cy="641.5" r="2.8" class="g"/>
<circle cx="344.4" cy="645.8" r="2.8" class="g"/>
<circle cx="339.2" cy="645.0" r="2.8" class="g"/>
<circle cx="343.6" cy="646.6" r="2.8" class="g"/>
<circle cx="337.5" cy="650.2" r="2.8" class="g"/>
<circle cx="335.1" cy="647.6" r="2.8" class="g"/>
<circle cx="332.3" cy="654.5" r="2.8" class="g"/>
<circle cx="327.1" cy="651.9" r="2.8" class="g"/>
<circle cx="323.6" cy="648.4" r="2.8" class="g"/>
<circle cx="328.8" cy="645.0" r="2.8" class="g"/>
<circle cx="326.6" cy="644.2" r="2.8" class="g"/>
<circle cx="334.0" cy="641.5" r="2.8" class="g"/>
<circle cx="332.3" cy="603.5" r="2.8" class="g"/>
<circle cx="335.7" cy="608.7" r="2.8" class="g"/>
<circle cx="336.0" cy="611.5" r="2.8" class="g"/>
<circle cx="338.3" cy="612.1" r="2.8" class="g"/>
<circle cx="342.7" cy="610.4" r="2.8" class="g"/>
<circle cx="341.7" cy="606.1" r="2.8" class="g"/>
<circle cx="346.1" cy="605.2" r="2.8" class="g"/>
<circle cx="345.5" cy="604.0" r="2.8" class="g"/>
<circle cx="349.6" cy="607.8" r="2.8" class="g"/>
<circle cx="347.7" cy="606.6" r="2.8" class="g"/>
<circle cx="344.4" cy="614.7" r="2.8" class="g"/>
<circle cx="340.9" cy="620.8" r="2.8" class="g"/>
<circle cx="346.1" cy="621.6" r="2.8" class="g"/>
<circle cx="346.3" cy="620.9" r="2.8" class="g"/>
<circle cx="348.7" cy="623.4" r="2.8" class="g"/>
<circle cx="330.6" cy="613.8" r="2.8" class="g"/>
<circle cx="334.9" cy="619.8" r="2.8" class="g"/>
<circle cx="334.0" cy="616.4" r="2.8" class="g"/>
<circle cx="283.0" cy="622.5" r="2.8" class="g"/>
<circle cx="289.0" cy="627.9" r="2.8" class="g"/>
<circle cx="280.4" cy="611.2" r="2.8" class="g"/>
<circle cx="276.9" cy="606.9" r="2.8" class="g"/>
<circle cx="273.5" cy="616.4" r="2.8" class="g"/>
<circle cx="271.5" cy="614.5" r="2.8" class="g"/>
<circle cx="270.0" cy="610.4" r="2.8" class="g"/>
<circle cx="267.9" cy="614.0" r="2.8" class="g"/>
<circle cx="274.3" cy="603.5" r="2.8" class="g"/>
<circle cx="273.1" cy="604.5" r="2.8" class="g"/>
<circle cx="288.2" cy="646.7" r="2.8" class="g"/>
<circle cx="294.2" cy="645.0" r="2.8" class="g"/>
<circle cx="273.5" cy="662.3" r="2.8" class="g"/>
<circle cx="276.1" cy="665.7" r="2.8" class="g"/>
<circle cx="268.1" cy="648.6" r="2.8" class="g"/>
<circle cx="274.2" cy="645.1" r="2.8" class="g"/>
<circle cx="292.4" cy="650.3" r="2.8" class="g"/>
<circle cx="269.6" cy="638.1" r="2.8" class="g"/>
<circle cx="284.3" cy="665.7" r="2.8" class="g"/>
<circle cx="261.4" cy="635.3" r="2.8" class="g"/>
<circle cx="253.5" cy="598.9" r="2.8" class="g"/>
<circle cx="286.3" cy="652.8" r="2.8" class="g"/>
<circle cx="262.7" cy="599.8" r="2.8" class="g"/>
<circle cx="282.6" cy="649.0" r="2.8" class="g"/>
<circle cx="286.6" cy="661.3" r="2.8" class="g"/>
<circle cx="283.3" cy="653.5" r="2.8" class="g"/>
<circle cx="281.3" cy="656.3" r="2.8" class="g"/>
<circle cx="281.8" cy="653.6" r="2.8" class="g"/>
<circle cx="284.9" cy="661.9" r="2.8" class="g"/>
<circle cx="282.7" cy="655.7" r="2.8" class="g"/>
<circle cx="280.3" cy="657.9" r="2.8" class="g"/>
<circle cx="279.6" cy="642.8" r="2.8" class="g"/>
<circle cx="262.5" cy="603.5" r="2.8" class="g"/>
<circle cx="254.5" cy="600.6" r="2.8" class="g"/>
<circle cx="279.2" cy="654.0" r="2.8" class="g"/>
<circle cx="271.7" cy="654.7" r="2.8" class="g"/>
<circle cx="267.0" cy="628.4" r="2.8" class="g"/>
<circle cx="286.8" cy="660.3" r="2.8" class="g"/>
<circle cx="280.1" cy="631.0" r="2.8" class="g"/>
<circle cx="264.4" cy="642.1" r="2.8" class="g"/>
<circle cx="261.7" cy="630.0" r="2.8" class="g"/>
<circle cx="255.0" cy="611.5" r="2.8" class="g"/>
<circle cx="271.6" cy="626.5" r="2.8" class="g"/>
<circle cx="251.0" cy="624.3" r="2.8" class="g"/>
<circle cx="268.0" cy="632.1" r="2.8" class="g"/>
<circle cx="245.1" cy="621.2" r="2.8" class="g"/>
<circle cx="274.0" cy="639.3" r="2.8" class="g"/>
<circle cx="278.3" cy="657.1" r="2.8" class="g"/>
<circle cx="288.5" cy="666.5" r="2.8" class="g"/>
<circle cx="277.8" cy="629.8" r="2.8" class="g"/>
<circle cx="289.3" cy="656.3" r="2.8" class="g"/>
<circle cx="284.3" cy="646.5" r="2.8" class="g"/>
<circle cx="270.4" cy="624.6" r="2.8" class="g"/>
<circle cx="278.1" cy="643.4" r="2.8" class="g"/>
<circle cx="268.9" cy="606.4" r="2.8" class="g"/>
<circle cx="273.4" cy="633.2" r="2.8" class="g"/>
<circle cx="281.5" cy="652.9" r="2.8" class="g"/>
<circle cx="278.5" cy="639.9" r="2.8" class="g"/>
<circle cx="272.2" cy="633.7" r="2.8" class="g"/>
<circle cx="287.7" cy="660.7" r="2.8" class="g"/>
<circle cx="268.7" cy="629.1" r="2.8" class="g"/>
<circle cx="276.0" cy="632.3" r="2.8" class="g"/>
<circle cx="277.0" cy="641.0" r="2.8" class="g"/>
<circle cx="283.5" cy="654.0" r="2.8" class="g"/>
<circle cx="286.0" cy="650.9" r="2.8" class="g"/>
<circle cx="253.0" cy="606.5" r="2.8" class="g"/>
<circle cx="276.1" cy="626.3" r="2.8" class="g"/>
<circle cx="288.9" cy="660.8" r="2.8" class="g"/>
<circle cx="266.2" cy="643.3" r="2.8" class="g"/>
<circle cx="287.8" cy="664.3" r="2.8" class="g"/>
<circle cx="263.4" cy="632.6" r="2.8" class="g"/>
<circle cx="272.5" cy="620.0" r="2.8" class="g"/>
<circle cx="260.9" cy="643.0" r="2.8" class="g"/>
<circle cx="278.6" cy="644.9" r="2.8" class="g"/>
<circle cx="256.5" cy="645.9" r="2.8" class="g"/>
<circle cx="278.3" cy="649.7" r="2.8" class="g"/>
<circle cx="264.8" cy="655.7" r="2.8" class="g"/>
<circle cx="290.2" cy="661.0" r="2.8" class="g"/>
<circle cx="275.1" cy="642.8" r="2.8" class="g"/>
<circle cx="284.3" cy="659.5" r="2.8" class="g"/>
<circle cx="271.8" cy="651.8" r="2.8" class="g"/>
<circle cx="265.1" cy="626.3" r="2.8" class="g"/>
<circle cx="268.4" cy="623.9" r="2.8" class="g"/>
<circle cx="287.7" cy="663.1" r="2.8" class="g"/>
<circle cx="268.5" cy="618.3" r="2.8" class="g"/>
<circle cx="283.4" cy="657.0" r="2.8" class="g"/>
<circle cx="272.4" cy="642.9" r="2.8" class="g"/>
<circle cx="285.1" cy="657.7" r="2.8" class="g"/>
<circle cx="292.3" cy="660.7" r="2.8" class="g"/>
<circle cx="259.5" cy="606.2" r="2.8" class="g"/>
<circle cx="283.9" cy="642.8" r="2.8" class="g"/>
<circle cx="271.3" cy="644.5" r="2.8" class="g"/>
<circle cx="281.3" cy="651.6" r="2.8" class="g"/>
<circle cx="269.9" cy="648.0" r="2.8" class="g"/>
<circle cx="281.1" cy="650.8" r="2.8" class="g"/>
<circle cx="268.5" cy="613.1" r="2.8" class="g"/>
<circle cx="271.4" cy="636.7" r="2.8" class="g"/>
<circle cx="276.1" cy="631.9" r="2.8" class="g"/>
<circle cx="247.2" cy="641.2" r="2.8" class="g"/>
<circle cx="252.4" cy="616.2" r="2.8" class="g"/>
<circle cx="288.1" cy="660.5" r="2.8" class="g"/>
<circle cx="261.8" cy="603.3" r="2.8" class="g"/>
<circle cx="263.6" cy="601.0" r="2.8" class="g"/>
<circle cx="259.8" cy="612.8" r="2.8" class="g"/>
<circle cx="264.5" cy="640.5" r="2.8" class="g"/>
<circle cx="271.3" cy="646.7" r="2.8" class="g"/>
<circle cx="283.2" cy="650.6" r="2.8" class="g"/>
<circle cx="259.5" cy="621.2" r="2.8" class="g"/>
<circle cx="265.4" cy="664.2" r="2.8" class="g"/>
<circle cx="265.9" cy="603.0" r="2.8" class="g"/>
<circle cx="267.3" cy="640.1" r="2.8" class="g"/>
<circle cx="286.2" cy="659.4" r="2.8" class="g"/>
<circle cx="243.2" cy="646.4" r="2.8" class="g"/>
<circle cx="287.8" cy="664.0" r="2.8" class="g"/>
<circle cx="269.5" cy="652.1" r="2.8" class="g"/>
<circle cx="285.1" cy="664.3" r="2.8" class="g"/>
<circle cx="286.6" cy="666.5" r="2.8" class="g"/>
<circle cx="289.1" cy="663.6" r="2.8" class="g"/>
<circle cx="271.8" cy="649.4" r="2.8" class="g"/>
<circle cx="280.8" cy="655.3" r="2.8" class="g"/>
<circle cx="272.9" cy="653.3" r="2.8" class="g"/>
<circle cx="267.2" cy="628.9" r="2.8" class="g"/>
<circle cx="286.6" cy="649.8" r="2.8" class="g"/>
<circle cx="275.7" cy="642.2" r="2.8" class="g"/>
<circle cx="285.4" cy="663.0" r="2.8" class="g"/>
<circle cx="274.7" cy="632.6" r="2.8" class="g"/>
<circle cx="244.8" cy="603.8" r="2.8" class="g"/>
<circle cx="277.0" cy="637.9" r="2.8" class="g"/>
<circle cx="274.9" cy="647.3" r="2.8" class="g"/>
<circle cx="269.7" cy="644.9" r="2.8" class="g"/>
<circle cx="256.8" cy="624.2" r="2.8" class="g"/>
<circle cx="259.8" cy="634.0" r="2.8" class="g"/>
<circle cx="289.6" cy="664.1" r="2.8" class="g"/>
<circle cx="266.3" cy="632.7" r="2.8" class="g"/>
<circle cx="266.6" cy="646.7" r="2.8" class="g"/>
<circle cx="268.3" cy="645.8" r="2.8" class="g"/>
<circle cx="264.6" cy="617.2" r="2.8" class="g"/>
<circle cx="257.7" cy="636.0" r="2.8" class="g"/>
<circle cx="283.5" cy="648.1" r="2.8" class="g"/>
<circle cx="281.8" cy="646.9" r="2.8" class="g"/>
<circle cx="284.9" cy="655.4" r="2.8" class="g"/>
<circle cx="263.5" cy="611.8" r="2.8" class="g"/>
<circle cx="284.5" cy="655.6" r="2.8" class="g"/>
<circle cx="268.4" cy="619.0" r="2.8" class="g"/>
<circle cx="278.8" cy="657.5" r="2.8" class="g"/>
<circle cx="289.0" cy="664.9" r="2.8" class="g"/>
<circle cx="282.7" cy="641.4" r="2.8" class="g"/>
<circle cx="278.3" cy="645.1" r="2.8" class="g"/>
<circle cx="290.2" cy="662.6" r="2.8" class="g"/>
<circle cx="260.3" cy="610.1" r="2.8" class="g"/>
<circle cx="282.8" cy="653.9" r="2.8" class="g"/>
<circle cx="290.9" cy="656.4" r="2.8" class="g"/>
<circle cx="252.2" cy="628.2" r="2.8" class="g"/>
<circle cx="288.8" cy="658.3" r="2.8" class="g"/>
<circle cx="276.8" cy="649.0" r="2.8" class="g"/>
<circle cx="262.4" cy="640.7" r="2.8" class="g"/>
<circle cx="257.6" cy="623.0" r="2.8" class="g"/>
<circle cx="286.0" cy="648.4" r="2.8" class="g"/>
<circle cx="264.6" cy="636.7" r="2.8" class="g"/>
<circle cx="275.8" cy="633.6" r="2.8" class="g"/>
<circle cx="253.5" cy="607.5" r="2.8" class="g"/>
<circle cx="285.2" cy="656.9" r="2.8" class="g"/>
<circle cx="266.1" cy="620.9" r="2.8" class="g"/>
<circle cx="282.8" cy="651.4" r="2.8" class="g"/>
<circle cx="260.0" cy="616.8" r="2.8" class="g"/>
<circle cx="266.8" cy="623.9" r="2.8" class="g"/>
<circle cx="285.6" cy="661.2" r="2.8" class="g"/>
<circle cx="267.2" cy="614.4" r="2.8" class="g"/>
<circle cx="261.2" cy="621.7" r="2.8" class="g"/>
<circle cx="254.4" cy="656.6" r="2.8" class="g"/>
<circle cx="273.9" cy="636.3" r="2.8" class="g"/>
<circle cx="256.5" cy="613.7" r="2.8" class="g"/>
<circle cx="273.9" cy="658.0" r="2.8" class="g"/>
<circle cx="267.3" cy="598.1" r="2.8" class="g"/>
<circle cx="260.0" cy="647.4" r="2.8" class="g"/>
<circle cx="293.8" cy="664.3" r="2.8" class="g"/>
<circle cx="269.6" cy="632.8" r="2.8" class="g"/>
<circle cx="285.5" cy="666.1" r="2.8" class="g"/>
<circle cx="272.4" cy="635.4" r="2.8" class="g"/>
<circle cx="288.9" cy="653.9" r="2.8" class="g"/>
<circle cx="271.6" cy="648.9" r="2.8" class="g"/>
<circle cx="247.6" cy="604.5" r="2.8" class="g"/>
<circle cx="259.7" cy="630.5" r="2.8" class="g"/>
<circle cx="280.5" cy="656.3" r="2.8" class="g"/>
<circle cx="273.4" cy="632.0" r="2.8" class="g"/>
<circle cx="281.3" cy="650.3" r="2.8" class="g"/>
<circle cx="286.8" cy="643.3" r="2.8" class="g"/>
<circle cx="262.9" cy="622.0" r="2.8" class="g"/>
<circle cx="268.9" cy="626.4" r="2.8" class="g"/>
<circle cx="285.6" cy="664.2" r="2.8" class="g"/>
<circle cx="257.8" cy="617.0" r="2.8" class="g"/>
<circle cx="268.3" cy="619.8" r="2.8" class="g"/>
<circle cx="285.7" cy="645.5" r="2.8" class="g"/>
<circle cx="286.9" cy="639.0" r="2.8" class="g"/>
<circle cx="284.8" cy="658.0" r="2.8" class="g"/>
<circle cx="277.9" cy="636.5" r="2.8" class="g"/>
<circle cx="270.2" cy="624.1" r="2.8" class="g"/>
<circle cx="290.1" cy="660.2" r="2.8" class="g"/>
<circle cx="270.7" cy="644.6" r="2.8" class="g"/>
<circle cx="283.2" cy="631.6" r="2.8" class="g"/>
<circle cx="282.4" cy="641.4" r="2.8" class="g"/>
<circle cx="269.9" cy="622.5" r="2.8" class="g"/>
<circle cx="284.5" cy="639.9" r="2.8" class="g"/>
<circle cx="271.1" cy="632.5" r="2.8" class="g"/>
<circle cx="260.4" cy="631.8" r="2.8" class="g"/>
<circle cx="263.2" cy="616.3" r="2.8" class="g"/>
<circle cx="267.7" cy="622.9" r="2.8" class="g"/>
<circle cx="253.1" cy="628.2" r="2.8" class="g"/>
<circle cx="277.4" cy="653.1" r="2.8" class="g"/>
<circle cx="287.7" cy="666.5" r="2.8" class="g"/>
<circle cx="285.6" cy="650.9" r="2.8" class="g"/>
<circle cx="288.0" cy="665.1" r="2.8" class="g"/>
<circle cx="266.8" cy="632.7" r="2.8" class="g"/>
<circle cx="287.6" cy="663.4" r="2.8" class="g"/>
<circle cx="290.2" cy="660.5" r="2.8" class="g"/>
<circle cx="262.2" cy="613.5" r="2.8" class="g"/>
<circle cx="289.8" cy="661.5" r="2.8" class="g"/>
<circle cx="291.3" cy="663.0" r="2.8" class="g"/>
<circle cx="288.9" cy="663.2" r="2.8" class="g"/>
<circle cx="271.1" cy="640.3" r="2.8" class="g"/>
<circle cx="265.2" cy="638.0" r="2.8" class="g"/>
<circle cx="268.4" cy="652.4" r="2.8" class="g"/>
<circle cx="284.4" cy="662.8" r="2.8" class="g"/>
<circle cx="282.7" cy="646.1" r="2.8" class="g"/>
<circle cx="272.3" cy="619.6" r="2.8" class="g"/>
<circle cx="287.7" cy="664.2" r="2.8" class="g"/>
<circle cx="279.2" cy="630.7" r="2.8" class="g"/>
<circle cx="273.8" cy="627.3" r="2.8" class="g"/>
<circle cx="281.4" cy="654.2" r="2.8" class="g"/>
<circle cx="289.9" cy="665.0" r="2.8" class="g"/>
<circle cx="282.9" cy="643.6" r="2.8" class="g"/>
<circle cx="278.9" cy="634.4" r="2.8" class="g"/>
<circle cx="279.2" cy="645.9" r="2.8" class="g"/>
<circle cx="288.9" cy="664.4" r="2.8" class="g"/>
<circle cx="262.3" cy="606.2" r="2.8" class="g"/>
<circle cx="247.8" cy="607.1" r="2.8" class="g"/>
<circle cx="273.6" cy="648.5" r="2.8" class="g"/>
<circle cx="287.2" cy="661.6" r="2.8" class="g"/>
<circle cx="288.0" cy="664.3" r="2.8" class="g"/>
<circle cx="263.6" cy="635.5" r="2.8" class="g"/>
<circle cx="280.8" cy="663.1" r="2.8" class="g"/>
<circle cx="291.0" cy="664.7" r="2.8" class="g"/>
<circle cx="277.0" cy="662.2" r="2.8" class="g"/>
<circle cx="264.4" cy="625.7" r="2.8" class="g"/>
<circle cx="279.8" cy="642.3" r="2.8" class="g"/>
<circle cx="291.0" cy="663.4" r="2.8" class="g"/>
<circle cx="263.9" cy="610.6" r="2.8" class="g"/>
<circle cx="269.4" cy="632.9" r="2.8" class="g"/>
<circle cx="272.3" cy="626.9" r="2.8" class="g"/>
<circle cx="268.2" cy="618.2" r="2.8" class="g"/>
<circle cx="251.5" cy="605.6" r="2.8" class="g"/>
<circle cx="272.2" cy="643.9" r="2.8" class="g"/>
<circle cx="280.8" cy="649.4" r="2.8" class="g"/>
<circle cx="273.3" cy="635.0" r="2.8" class="g"/>
<circle cx="284.9" cy="650.5" r="2.8" class="g"/>
<circle cx="274.5" cy="641.5" r="2.8" class="g"/>
<circle cx="276.4" cy="638.5" r="2.8" class="g"/>
<circle cx="271.8" cy="626.5" r="2.8" class="g"/>
<circle cx="278.2" cy="636.2" r="2.8" class="g"/>
<circle cx="277.9" cy="659.0" r="2.8" class="g"/>
<circle cx="255.3" cy="600.6" r="2.8" class="g"/>
<circle cx="268.2" cy="625.8" r="2.8" class="g"/>
<circle cx="266.7" cy="634.5" r="2.8" class="g"/>
<circle cx="271.9" cy="646.2" r="2.8" class="g"/>
<circle cx="271.8" cy="632.0" r="2.8" class="g"/>
<circle cx="289.2" cy="657.0" r="2.8" class="g"/>
<circle cx="272.0" cy="635.6" r="2.8" class="g"/>
<circle cx="290.4" cy="664.6" r="2.8" class="g"/>
<circle cx="289.6" cy="663.4" r="2.8" class="g"/>
<circle cx="269.2" cy="644.9" r="2.8" class="g"/>
<circle cx="276.3" cy="627.4" r="2.8" class="g"/>
<circle cx="264.9" cy="619.0" r="2.8" class="g"/>
<circle cx="288.5" cy="664.8" r="2.8" class="g"/>
<circle cx="279.5" cy="652.3" r="2.8" class="g"/>
<circle cx="264.1" cy="614.8" r="2.8" class="g"/>
<circle cx="262.3" cy="664.1" r="2.8" class="g"/>
<circle cx="263.4" cy="610.4" r="2.8" class="g"/>
<circle cx="269.1" cy="619.2" r="2.8" class="g"/>
<circle cx="261.3" cy="625.5" r="2.8" class="g"/>
<circle cx="277.7" cy="629.5" r="2.8" class="g"/>
<circle cx="270.1" cy="649.7" r="2.8" class="g"/>
<circle cx="264.6" cy="608.7" r="2.8" class="g"/>
<circle cx="283.5" cy="649.2" r="2.8" class="g"/>
<circle cx="290.1" cy="660.8" r="2.8" class="g"/>
<circle cx="289.8" cy="658.8" r="2.8" class="g"/>
<circle cx="288.1" cy="654.5" r="2.8" class="g"/>
<circle cx="278.4" cy="640.8" r="2.8" class="g"/>
<circle cx="278.6" cy="644.9" r="2.8" class="g"/>
<circle cx="272.3" cy="654.7" r="2.8" class="g"/>
<circle cx="279.9" cy="662.3" r="2.8" class="g"/>
<circle cx="268.1" cy="625.7" r="2.8" class="g"/>
<circle cx="283.7" cy="653.8" r="2.8" class="g"/>
<circle cx="272.9" cy="615.2" r="2.8" class="g"/>
<circle cx="259.7" cy="620.7" r="2.8" class="g"/>
<circle cx="262.8" cy="649.3" r="2.8" class="g"/>
<circle cx="260.8" cy="613.2" r="2.8" class="g"/>
<circle cx="267.7" cy="622.5" r="2.8" class="g"/>
<circle cx="272.0" cy="622.9" r="2.8" class="g"/>
<circle cx="271.6" cy="626.4" r="2.8" class="g"/>
<circle cx="259.8" cy="641.0" r="2.8" class="g"/>
<circle cx="278.1" cy="648.4" r="2.8" class="g"/>
<circle cx="280.9" cy="658.7" r="2.8" class="g"/>
<circle cx="267.2" cy="604.3" r="2.8" class="g"/>
<circle cx="268.4" cy="655.1" r="2.8" class="g"/>
<circle cx="266.0" cy="646.4" r="2.8" class="g"/>
<circle cx="268.5" cy="638.1" r="2.8" class="g"/>
<circle cx="257.6" cy="648.6" r="2.8" class="g"/>
<circle cx="275.4" cy="632.9" r="2.8" class="g"/>
<circle cx="268.0" cy="640.9" r="2.8" class="g"/>
<circle cx="284.7" cy="651.6" r="2.8" class="g"/>
<circle cx="259.3" cy="615.5" r="2.8" class="g"/>
<circle cx="275.7" cy="647.0" r="2.8" class="g"/>
<circle cx="256.7" cy="616.4" r="2.8" class="g"/>
<circle cx="281.9" cy="640.1" r="2.8" class="g"/>
<circle cx="251.7" cy="609.7" r="2.8" class="g"/>
<circle cx="278.4" cy="649.4" r="2.8" class="g"/>
<circle cx="282.4" cy="664.7" r="2.8" class="g"/>
<circle cx="270.5" cy="631.1" r="2.8" class="g"/>
<circle cx="268.5" cy="633.3" r="2.8" class="g"/>
<circle cx="251.9" cy="629.9" r="2.8" class="g"/>
<circle cx="279.9" cy="656.4" r="2.8" class="g"/>
<circle cx="284.5" cy="658.7" r="2.8" class="g"/>
<circle cx="272.4" cy="654.2" r="2.8" class="g"/>
<circle cx="285.2" cy="652.8" r="2.8" class="g"/>
<circle cx="280.0" cy="641.6" r="2.8" class="g"/>
<circle cx="264.2" cy="616.4" r="2.8" class="g"/>
<circle cx="291.0" cy="663.2" r="2.8" class="g"/>
<circle cx="280.3" cy="653.4" r="2.8" class="g"/>
<circle cx="282.9" cy="639.8" r="2.8" class="g"/>
<circle cx="262.2" cy="622.7" r="2.8" class="g"/>
<circle cx="273.5" cy="648.5" r="2.8" class="g"/>
<circle cx="266.1" cy="623.7" r="2.8" class="g"/>
<circle cx="288.8" cy="665.7" r="2.8" class="g"/>
<circle cx="287.4" cy="648.2" r="2.8" class="g"/>
<circle cx="261.0" cy="627.7" r="2.8" class="g"/>
<circle cx="275.1" cy="631.1" r="2.8" class="g"/>
<circle cx="290.3" cy="663.4" r="2.8" class="g"/>
<circle cx="284.7" cy="647.4" r="2.8" class="g"/>
<circle cx="267.6" cy="621.3" r="2.8" class="g"/>
<circle cx="262.6" cy="624.4" r="2.8" class="g"/>
<circle cx="271.7" cy="639.3" r="2.8" class="g"/>
<circle cx="276.1" cy="642.2" r="2.8" class="g"/>
<circle cx="259.7" cy="621.1" r="2.8" class="g"/>
<circle cx="277.3" cy="642.5" r="2.8" class="g"/>
<circle cx="274.4" cy="633.7" r="2.8" class="g"/>
<circle cx="256.8" cy="611.2" r="2.8" class="g"/>
<circle cx="285.9" cy="650.4" r="2.8" class="g"/>
<circle cx="261.9" cy="604.4" r="2.8" class="g"/>
<circle cx="279.7" cy="657.4" r="2.8" class="g"/>
<circle cx="277.3" cy="643.4" r="2.8" class="g"/>
<circle cx="244.7" cy="627.6" r="2.8" class="g"/>
<circle cx="289.7" cy="660.2" r="2.8" class="g"/>
<circle cx="280.2" cy="654.4" r="2.8" class="g"/>
<circle cx="250.7" cy="605.0" r="2.8" class="g"/>
<circle cx="272.8" cy="635.9" r="2.8" class="g"/>
<circle cx="263.7" cy="639.6" r="2.8" class="g"/>
<circle cx="267.7" cy="622.2" r="2.8" class="g"/>
<circle cx="283.2" cy="655.1" r="2.8" class="g"/>
<circle cx="268.7" cy="634.9" r="2.8" class="g"/>
<circle cx="282.5" cy="665.2" r="2.8" class="g"/>
<circle cx="273.4" cy="651.5" r="2.8" class="g"/>
<circle cx="278.6" cy="636.3" r="2.8" class="g"/>
<circle cx="258.4" cy="637.5" r="2.8" class="g"/>
<circle cx="286.1" cy="666.5" r="2.8" class="g"/>
<circle cx="282.2" cy="659.3" r="2.8" class="g"/>
<circle cx="280.6" cy="650.5" r="2.8" class="g"/>
<circle cx="278.0" cy="637.1" r="2.8" class="g"/>
<circle cx="282.5" cy="634.5" r="2.8" class="g"/>
<circle cx="279.2" cy="660.7" r="2.8" class="g"/>
<circle cx="278.7" cy="662.1" r="2.8" class="g"/>
<circle cx="272.9" cy="654.3" r="2.8" class="g"/>
<circle cx="269.9" cy="625.0" r="2.8" class="g"/>
<circle cx="285.1" cy="638.2" r="2.8" class="g"/>
<circle cx="254.1" cy="613.9" r="2.8" class="g"/>
<circle cx="274.3" cy="628.3" r="2.8" class="g"/>
<circle cx="282.0" cy="654.1" r="2.8" class="g"/>
<circle cx="251.7" cy="620.3" r="2.8" class="g"/>
<circle cx="283.2" cy="654.1" r="2.8" class="g"/>
<circle cx="277.8" cy="645.9" r="2.8" class="g"/>
<circle cx="271.1" cy="647.3" r="2.8" class="g"/>
<circle cx="283.4" cy="666.5" r="2.8" class="g"/>
<circle cx="274.2" cy="635.4" r="2.8" class="g"/>
<circle cx="286.6" cy="663.7" r="2.8" class="g"/>
<circle cx="269.4" cy="657.9" r="2.8" class="g"/>
<circle cx="264.2" cy="645.2" r="2.8" class="g"/>
<circle cx="281.6" cy="656.7" r="2.8" class="g"/>
<circle cx="277.1" cy="648.3" r="2.8" class="g"/>
<circle cx="277.3" cy="647.0" r="2.8" class="g"/>
<circle cx="284.6" cy="652.4" r="2.8" class="g"/>
<circle cx="267.6" cy="630.0" r="2.8" class="g"/>
<circle cx="256.7" cy="618.8" r="2.8" class="g"/>
<circle cx="263.8" cy="610.8" r="2.8" class="g"/>
<circle cx="270.6" cy="652.9" r="2.8" class="g"/>
<circle cx="268.1" cy="642.2" r="2.8" class="g"/>
<circle cx="270.4" cy="643.3" r="2.8" class="g"/>
<circle cx="278.1" cy="638.5" r="2.8" class="g"/>
<circle cx="275.4" cy="619.1" r="2.8" class="g"/>
<circle cx="282.3" cy="652.1" r="2.8" class="g"/>
<circle cx="289.2" cy="664.8" r="2.8" class="g"/>
<circle cx="288.2" cy="666.5" r="2.8" class="g"/>
<circle cx="265.3" cy="634.2" r="2.8" class="g"/>
<circle cx="276.6" cy="629.6" r="2.8" class="g"/>
<circle cx="264.0" cy="607.2" r="2.8" class="g"/>
<circle cx="265.1" cy="607.3" r="2.8" class="g"/>
<circle cx="271.7" cy="636.0" r="2.8" class="g"/>
<circle cx="262.5" cy="634.5" r="2.8" class="g"/>
<circle cx="279.1" cy="662.4" r="2.8" class="g"/>
<circle cx="278.4" cy="644.9" r="2.8" class="g"/>
<circle cx="282.9" cy="650.6" r="2.8" class="g"/>
<circle cx="256.7" cy="619.7" r="2.8" class="g"/>
<circle cx="278.7" cy="643.4" r="2.8" class="g"/>
<circle cx="286.5" cy="652.8" r="2.8" class="g"/>
<circle cx="269.2" cy="627.2" r="2.8" class="g"/>
<circle cx="286.7" cy="645.1" r="2.8" class="g"/>
<circle cx="281.7" cy="636.0" r="2.8" class="g"/>
<circle cx="270.6" cy="637.0" r="2.8" class="g"/>
<circle cx="287.8" cy="654.7" r="2.8" class="g"/>
<circle cx="286.5" cy="649.4" r="2.8" class="g"/>
<circle cx="260.2" cy="628.9" r="2.8" class="g"/>
<circle cx="282.4" cy="653.1" r="2.8" class="g"/>
<circle cx="269.8" cy="630.7" r="2.8" class="g"/>
<circle cx="251.8" cy="610.8" r="2.8" class="g"/>
<circle cx="257.9" cy="602.9" r="2.8" class="g"/>
<circle cx="284.2" cy="648.6" r="2.8" class="g"/>
<circle cx="266.6" cy="638.5" r="2.8" class="g"/>
<circle cx="288.9" cy="660.1" r="2.8" class="g"/>
<circle cx="260.0" cy="657.5" r="2.8" class="g"/>
<circle cx="270.0" cy="624.9" r="2.8" class="g"/>
<circle cx="270.8" cy="620.4" r="2.8" class="g"/>
<circle cx="291.2" cy="663.7" r="2.8" class="g"/>
<circle cx="262.4" cy="636.2" r="2.8" class="g"/>
<circle cx="286.7" cy="658.7" r="2.8" class="g"/>
<circle cx="286.0" cy="662.2" r="2.8" class="g"/>
<circle cx="272.5" cy="630.3" r="2.8" class="g"/>
<circle cx="287.2" cy="654.4" r="2.8" class="g"/>
<circle cx="279.3" cy="644.8" r="2.8" class="g"/>
<circle cx="278.3" cy="642.4" r="2.8" class="g"/>
<circle cx="265.5" cy="618.6" r="2.8" class="g"/>
<circle cx="277.9" cy="657.3" r="2.8" class="g"/>
<circle cx="277.2" cy="643.9" r="2.8" class="g"/>
<circle cx="270.6" cy="651.5" r="2.8" class="g"/>
<circle cx="252.7" cy="623.6" r="2.8" class="g"/>
<circle cx="262.6" cy="627.0" r="2.8" class="g"/>
<circle cx="259.1" cy="621.0" r="2.8" class="g"/>
<circle cx="276.5" cy="645.9" r="2.8" class="g"/>
<circle cx="248.9" cy="584.2" r="2.8" class="g"/>
<circle cx="217.9" cy="582.3" r="2.8" class="g"/>
<circle cx="231.6" cy="619.7" r="2.8" class="g"/>
<circle cx="235.3" cy="592.9" r="2.8" class="g"/>
<circle cx="248.6" cy="604.7" r="2.8" class="g"/>
<circle cx="241.5" cy="581.6" r="2.8" class="g"/>
<circle cx="265.9" cy="621.3" r="2.8" class="g"/>
<circle cx="256.4" cy="622.8" r="2.8" class="g"/>
<circle cx="247.1" cy="641.3" r="2.8" class="g"/>
<circle cx="254.8" cy="628.2" r="2.8" class="g"/>
<circle cx="274.6" cy="646.5" r="2.8" class="g"/>
<circle cx="271.9" cy="621.9" r="2.8" class="g"/>
<circle cx="242.3" cy="600.7" r="2.8" class="g"/>
<circle cx="267.0" cy="626.0" r="2.8" class="g"/>
<circle cx="248.3" cy="645.2" r="2.8" class="g"/>
<circle cx="267.0" cy="624.1" r="2.8" class="g"/>
<circle cx="256.3" cy="623.7" r="2.8" class="g"/>
<circle cx="264.6" cy="628.6" r="2.8" class="g"/>
<circle cx="235.3" cy="581.6" r="2.8" class="g"/>
<circle cx="259.0" cy="614.9" r="2.8" class="g"/>
<circle cx="255.5" cy="609.0" r="2.8" class="g"/>
<circle cx="253.9" cy="631.5" r="2.8" class="g"/>
<circle cx="268.6" cy="630.5" r="2.8" class="g"/>
<circle cx="256.3" cy="640.0" r="2.8" class="g"/>
<circle cx="258.5" cy="593.7" r="2.8" class="g"/>
<circle cx="251.8" cy="633.9" r="2.8" class="g"/>
<circle cx="238.9" cy="590.3" r="2.8" class="g"/>
<circle cx="255.2" cy="598.5" r="2.8" class="g"/>
<circle cx="230.0" cy="606.1" r="2.8" class="g"/>
<circle cx="235.7" cy="569.8" r="2.8" class="g"/>
<circle cx="264.5" cy="594.8" r="2.8" class="g"/>
<circle cx="246.9" cy="586.1" r="2.8" class="g"/>
<circle cx="275.6" cy="641.9" r="2.8" class="g"/>
<circle cx="226.0" cy="620.3" r="2.8" class="g"/>
<circle cx="254.9" cy="628.1" r="2.8" class="g"/>
<circle cx="278.4" cy="648.4" r="2.8" class="g"/>
<circle cx="229.1" cy="588.7" r="2.8" class="g"/>
<circle cx="249.8" cy="596.5" r="2.8" class="g"/>
<circle cx="261.6" cy="638.9" r="2.8" class="g"/>
<circle cx="270.4" cy="627.5" r="2.8" class="g"/>
<circle cx="258.4" cy="648.3" r="2.8" class="g"/>
<circle cx="258.8" cy="608.2" r="2.8" class="g"/>
<circle cx="267.9" cy="609.7" r="2.8" class="g"/>
<circle cx="227.6" cy="579.4" r="2.8" class="g"/>
<circle cx="272.3" cy="633.3" r="2.8" class="g"/>
<circle cx="276.1" cy="655.0" r="2.8" class="g"/>
<circle cx="246.5" cy="583.9" r="2.8" class="g"/>
<circle cx="255.1" cy="612.4" r="2.8" class="g"/>
<circle cx="260.9" cy="626.3" r="2.8" class="g"/>
<circle cx="252.5" cy="602.7" r="2.8" class="g"/>
<circle cx="271.7" cy="636.7" r="2.8" class="g"/>
<circle cx="241.3" cy="576.7" r="2.8" class="g"/>
<circle cx="279.9" cy="648.3" r="2.8" class="g"/>
<circle cx="240.4" cy="616.4" r="2.8" class="g"/>
<circle cx="274.5" cy="638.1" r="2.8" class="g"/>
<circle cx="207.8" cy="594.3" r="2.8" class="g"/>
<circle cx="256.8" cy="603.8" r="2.8" class="g"/>
<circle cx="266.3" cy="629.7" r="2.8" class="g"/>
<circle cx="258.2" cy="622.0" r="2.8" class="g"/>
<circle cx="218.7" cy="608.2" r="2.8" class="g"/>
<circle cx="223.1" cy="573.2" r="2.8" class="g"/>
<circle cx="280.6" cy="644.7" r="2.8" class="g"/>
<circle cx="268.6" cy="629.0" r="2.8" class="g"/>
<circle cx="223.6" cy="579.9" r="2.8" class="g"/>
<circle cx="270.9" cy="620.0" r="2.8" class="g"/>
<circle cx="278.5" cy="641.6" r="2.8" class="g"/>
<circle cx="268.3" cy="622.6" r="2.8" class="g"/>
<circle cx="260.6" cy="631.9" r="2.8" class="g"/>
<circle cx="273.7" cy="640.1" r="2.8" class="g"/>
<circle cx="281.3" cy="646.6" r="2.8" class="g"/>
<circle cx="237.0" cy="594.1" r="2.8" class="g"/>
<circle cx="240.2" cy="576.0" r="2.8" class="g"/>
<circle cx="278.1" cy="642.9" r="2.8" class="g"/>
<circle cx="257.4" cy="611.9" r="2.8" class="g"/>
<circle cx="249.5" cy="589.4" r="2.8" class="g"/>
<circle cx="244.9" cy="590.0" r="2.8" class="g"/>
<circle cx="265.8" cy="630.3" r="2.8" class="g"/>
<circle cx="266.8" cy="655.8" r="2.8" class="g"/>
<circle cx="252.8" cy="632.1" r="2.8" class="g"/>
<circle cx="239.9" cy="644.9" r="2.8" class="g"/>
<circle cx="273.4" cy="639.1" r="2.8" class="g"/>
<circle cx="245.4" cy="598.3" r="2.8" class="g"/>
<circle cx="266.5" cy="640.1" r="2.8" class="g"/>
<circle cx="235.2" cy="580.8" r="2.8" class="g"/>
<circle cx="273.0" cy="636.9" r="2.8" class="g"/>
<circle cx="265.4" cy="660.7" r="2.8" class="g"/>
<circle cx="265.3" cy="645.6" r="2.8" class="g"/>
<circle cx="270.3" cy="616.6" r="2.8" class="g"/>
<circle cx="239.5" cy="596.8" r="2.8" class="g"/>
<circle cx="297.2" cy="660.7" r="2.8" class="g"/>
<circle cx="295.6" cy="659.2" r="2.8" class="g"/>
<circle cx="310.8" cy="637.4" r="2.8" class="g"/>
<circle cx="311.0" cy="654.6" r="2.8" class="g"/>
<circle cx="309.4" cy="625.1" r="2.8" class="g"/>
<circle cx="299.0" cy="645.5" r="2.8" class="g"/>
<circle cx="298.3" cy="649.6" r="2.8" class="g"/>
<circle cx="316.8" cy="641.7" r="2.8" class="g"/>
<circle cx="294.8" cy="663.7" r="2.8" class="g"/>
<circle cx="296.9" cy="665.7" r="2.8" class="g"/>
<circle cx="299.3" cy="659.3" r="2.8" class="g"/>
<circle cx="295.5" cy="661.7" r="2.8" class="g"/>
<circle cx="309.0" cy="639.9" r="2.8" class="g"/>
<circle cx="301.8" cy="657.7" r="2.8" class="g"/>
<circle cx="298.5" cy="665.3" r="2.8" class="g"/>
<circle cx="297.6" cy="654.1" r="2.8" class="g"/>
<circle cx="301.1" cy="665.7" r="2.8" class="g"/>
<circle cx="309.1" cy="620.6" r="2.8" class="g"/>
<circle cx="302.6" cy="641.2" r="2.8" class="g"/>
<circle cx="299.2" cy="645.5" r="2.8" class="g"/>
<circle cx="294.3" cy="662.9" r="2.8" class="g"/>
<circle cx="299.2" cy="657.4" r="2.8" class="g"/>
<circle cx="295.4" cy="663.0" r="2.8" class="g"/>
<circle cx="311.3" cy="654.0" r="2.8" class="g"/>
<circle cx="302.2" cy="654.8" r="2.8" class="g"/>
<circle cx="304.7" cy="658.5" r="2.8" class="g"/>
<circle cx="302.2" cy="660.5" r="2.8" class="g"/>
<circle cx="291.0" cy="665.5" r="2.8" class="g"/>
<circle cx="310.6" cy="626.7" r="2.8" class="g"/>
<circle cx="302.0" cy="637.8" r="2.8" class="g"/>
<circle cx="301.7" cy="647.8" r="2.8" class="g"/>
<circle cx="301.4" cy="655.0" r="2.8" class="g"/>
<circle cx="312.7" cy="623.0" r="2.8" class="g"/>
<circle cx="306.3" cy="648.8" r="2.8" class="g"/>
<circle cx="294.5" cy="658.6" r="2.8" class="g"/>
<circle cx="298.0" cy="660.1" r="2.8" class="g"/>
<circle cx="302.3" cy="651.8" r="2.8" class="g"/>
<circle cx="312.5" cy="620.8" r="2.8" class="g"/>
<circle cx="299.9" cy="641.5" r="2.8" class="g"/>
<circle cx="313.3" cy="619.5" r="2.8" class="g"/>
<circle cx="291.4" cy="661.2" r="2.8" class="g"/>
<circle cx="307.5" cy="643.6" r="2.8" class="g"/>
<circle cx="299.0" cy="650.4" r="2.8" class="g"/>
<circle cx="301.8" cy="651.4" r="2.8" class="g"/>
<circle cx="298.6" cy="666.5" r="2.8" class="g"/>
<circle cx="302.5" cy="652.0" r="2.8" class="g"/>
<circle cx="306.1" cy="634.8" r="2.8" class="g"/>
<circle cx="308.8" cy="632.3" r="2.8" class="g"/>
<circle cx="304.5" cy="653.8" r="2.8" class="g"/>
<circle cx="305.8" cy="651.5" r="2.8" class="g"/>
<circle cx="301.0" cy="646.8" r="2.8" class="g"/>
<circle cx="303.2" cy="639.5" r="2.8" class="g"/>
<circle cx="309.5" cy="633.1" r="2.8" class="g"/>
<circle cx="295.1" cy="655.1" r="2.8" class="g"/>
<circle cx="300.9" cy="655.5" r="2.8" class="g"/>
<circle cx="305.1" cy="645.7" r="2.8" class="g"/>
<circle cx="312.1" cy="656.0" r="2.8" class="g"/>
<circle cx="293.5" cy="660.3" r="2.8" class="g"/>
<circle cx="315.0" cy="630.7" r="2.8" class="g"/>
<circle cx="291.8" cy="660.1" r="2.8" class="g"/>
<circle cx="297.9" cy="665.7" r="2.8" class="g"/>
<circle cx="306.1" cy="641.7" r="2.8" class="g"/>
<circle cx="304.1" cy="654.1" r="2.8" class="g"/>
<circle cx="332.3" cy="623.5" r="2.8" class="g"/>
<circle cx="302.0" cy="658.4" r="2.8" class="g"/>
<circle cx="308.6" cy="638.9" r="2.8" class="g"/>
<circle cx="306.3" cy="637.0" r="2.8" class="g"/>
<circle cx="314.8" cy="638.2" r="2.8" class="g"/>
<circle cx="312.4" cy="643.7" r="2.8" class="g"/>
<circle cx="299.1" cy="662.4" r="2.8" class="g"/>
<circle cx="295.6" cy="656.6" r="2.8" class="g"/>
<circle cx="296.9" cy="661.2" r="2.8" class="g"/>
<circle cx="318.4" cy="643.4" r="2.8" class="g"/>
<circle cx="296.8" cy="658.7" r="2.8" class="g"/>
<circle cx="291.1" cy="651.7" r="2.8" class="g"/>
<circle cx="307.6" cy="630.1" r="2.8" class="g"/>
<circle cx="298.1" cy="664.3" r="2.8" class="g"/>
<circle cx="300.8" cy="666.5" r="2.8" class="g"/>
<circle cx="306.6" cy="648.6" r="2.8" class="g"/>
<circle cx="294.0" cy="664.0" r="2.8" class="g"/>
<circle cx="304.6" cy="655.2" r="2.8" class="g"/>
<circle cx="320.7" cy="639.9" r="2.8" class="g"/>
<circle cx="296.0" cy="666.5" r="2.8" class="g"/>
<circle cx="302.0" cy="650.3" r="2.8" class="g"/>
<circle cx="299.2" cy="652.3" r="2.8" class="g"/>
<circle cx="292.8" cy="663.8" r="2.8" class="g"/>
<circle cx="319.0" cy="619.9" r="2.8" class="g"/>
<circle cx="297.8" cy="654.9" r="2.8" class="g"/>
<circle cx="306.1" cy="642.6" r="2.8" class="g"/>
<circle cx="296.5" cy="651.3" r="2.8" class="g"/>
<circle cx="311.8" cy="649.5" r="2.8" class="g"/>
<circle cx="302.9" cy="639.2" r="2.8" class="g"/>
<circle cx="297.1" cy="657.5" r="2.8" class="g"/>
<circle cx="313.8" cy="621.4" r="2.8" class="g"/>
<circle cx="289.2" cy="664.2" r="2.8" class="g"/>
<circle cx="294.4" cy="666.3" r="2.8" class="g"/>
<circle cx="306.1" cy="647.6" r="2.8" class="g"/>
<circle cx="302.5" cy="648.7" r="2.8" class="g"/>
<circle cx="309.7" cy="636.4" r="2.8" class="g"/>
<circle cx="308.8" cy="628.6" r="2.8" class="g"/>
<circle cx="295.3" cy="666.3" r="2.8" class="g"/>
<circle cx="296.7" cy="662.2" r="2.8" class="g"/>
<circle cx="299.1" cy="656.5" r="2.8" class="g"/>
<circle cx="298.4" cy="648.7" r="2.8" class="g"/>
<circle cx="311.0" cy="632.2" r="2.8" class="g"/>
<circle cx="298.8" cy="655.4" r="2.8" class="g"/>
<circle cx="300.8" cy="659.1" r="2.8" class="g"/>
<circle cx="308.9" cy="635.1" r="2.8" class="g"/>
<circle cx="296.0" cy="657.1" r="2.8" class="g"/>
<circle cx="295.7" cy="657.9" r="2.8" class="g"/>
<circle cx="294.2" cy="663.8" r="2.8" class="g"/>
<circle cx="304.7" cy="635.6" r="2.8" class="g"/>
<circle cx="315.4" cy="645.3" r="2.8" class="g"/>
<circle cx="298.7" cy="662.3" r="2.8" class="g"/>
<circle cx="312.6" cy="620.5" r="2.8" class="g"/>
<circle cx="294.5" cy="651.9" r="2.8" class="g"/>
<circle cx="292.9" cy="660.7" r="2.8" class="g"/>
<circle cx="297.8" cy="659.1" r="2.8" class="g"/>
<circle cx="303.6" cy="659.5" r="2.8" class="g"/>
<circle cx="312.2" cy="651.8" r="2.8" class="g"/>
<circle cx="306.7" cy="637.4" r="2.8" class="g"/>
<circle cx="316.1" cy="636.0" r="2.8" class="g"/>
<circle cx="302.1" cy="652.3" r="2.8" class="g"/>
<circle cx="309.3" cy="636.9" r="2.8" class="g"/>
<circle cx="295.2" cy="659.2" r="2.8" class="g"/>
<circle cx="303.2" cy="639.1" r="2.8" class="g"/>
<circle cx="305.0" cy="645.2" r="2.8" class="g"/>
<circle cx="299.4" cy="661.9" r="2.8" class="g"/>
<circle cx="295.3" cy="657.7" r="2.8" class="g"/>
<circle cx="307.1" cy="620.9" r="2.8" class="g"/>
<circle cx="301.9" cy="653.0" r="2.8" class="g"/>
<circle cx="289.9" cy="665.8" r="2.8" class="g"/>
<circle cx="297.0" cy="647.1" r="2.8" class="g"/>
<circle cx="294.8" cy="662.9" r="2.8" class="g"/>
<circle cx="294.9" cy="659.8" r="2.8" class="g"/>
<circle cx="293.9" cy="663.3" r="2.8" class="g"/>
<circle cx="295.4" cy="651.2" r="2.8" class="g"/>
<circle cx="296.3" cy="663.3" r="2.8" class="g"/>
<circle cx="298.8" cy="642.6" r="2.8" class="g"/>
<circle cx="308.9" cy="653.2" r="2.8" class="g"/>
<circle cx="309.7" cy="624.5" r="2.8" class="g"/>
<circle cx="303.1" cy="647.4" r="2.8" class="g"/>
<circle cx="303.1" cy="634.9" r="2.8" class="g"/>
<circle cx="307.4" cy="638.6" r="2.8" class="g"/>
<circle cx="301.7" cy="663.7" r="2.8" class="g"/>
<circle cx="303.0" cy="664.8" r="2.8" class="g"/>
<circle cx="295.1" cy="654.0" r="2.8" class="g"/>
<circle cx="302.4" cy="652.4" r="2.8" class="g"/>
<circle cx="298.9" cy="650.2" r="2.8" class="g"/>
<circle cx="296.4" cy="660.6" r="2.8" class="g"/>
<circle cx="300.7" cy="653.4" r="2.8" class="g"/>
<circle cx="299.4" cy="659.5" r="2.8" class="g"/>
<circle cx="297.6" cy="655.5" r="2.8" class="g"/>
<circle cx="302.4" cy="642.3" r="2.8" class="g"/>
<circle cx="297.1" cy="647.6" r="2.8" class="g"/>
<circle cx="302.3" cy="642.6" r="2.8" class="g"/>
<circle cx="309.3" cy="644.7" r="2.8" class="g"/>
<circle cx="292.4" cy="666.5" r="2.8" class="g"/>
<circle cx="306.6" cy="620.6" r="2.8" class="g"/>
<circle cx="299.1" cy="651.5" r="2.8" class="g"/>
<circle cx="296.4" cy="661.5" r="2.8" class="g"/>
<circle cx="297.4" cy="663.3" r="2.8" class="g"/>
<circle cx="300.9" cy="644.2" r="2.8" class="g"/>
<circle cx="294.6" cy="665.8" r="2.8" class="g"/>
<circle cx="297.1" cy="659.9" r="2.8" class="g"/>
<circle cx="310.0" cy="633.0" r="2.8" class="g"/>
<circle cx="310.9" cy="634.6" r="2.8" class="g"/>
<circle cx="300.3" cy="657.3" r="2.8" class="g"/>
<circle cx="299.0" cy="643.6" r="2.8" class="g"/>
<circle cx="296.2" cy="658.7" r="2.8" class="g"/>
<circle cx="312.9" cy="624.8" r="2.8" class="g"/>
<circle cx="308.5" cy="637.3" r="2.8" class="g"/>
<circle cx="307.8" cy="621.2" r="2.8" class="g"/>
<circle cx="312.5" cy="627.0" r="2.8" class="g"/>
<circle cx="325.5" cy="614.1" r="2.8" class="g"/>
<circle cx="327.1" cy="599.5" r="2.8" class="g"/>
<circle cx="317.3" cy="634.7" r="2.8" class="g"/>
<circle cx="299.4" cy="636.3" r="2.8" class="g"/>
<circle cx="298.4" cy="643.6" r="2.8" class="g"/>
<circle cx="319.5" cy="621.7" r="2.8" class="g"/>
<circle cx="325.8" cy="595.4" r="2.8" class="g"/>
<circle cx="305.5" cy="636.2" r="2.8" class="g"/>
<circle cx="312.8" cy="624.4" r="2.8" class="g"/>
<circle cx="302.5" cy="638.6" r="2.8" class="g"/>
<circle cx="335.6" cy="601.7" r="2.8" class="g"/>
<circle cx="312.0" cy="636.5" r="2.8" class="g"/>
<circle cx="300.8" cy="628.7" r="2.8" class="g"/>
<circle cx="342.4" cy="610.9" r="2.8" class="g"/>
<circle cx="300.0" cy="642.2" r="2.8" class="g"/>
<circle cx="306.7" cy="629.4" r="2.8" class="g"/>
<circle cx="307.6" cy="636.2" r="2.8" class="g"/>
<circle cx="310.5" cy="622.3" r="2.8" class="g"/>
<circle cx="312.4" cy="612.5" r="2.8" class="g"/>
<circle cx="308.4" cy="633.7" r="2.8" class="g"/>
<circle cx="317.8" cy="616.5" r="2.8" class="g"/>
<circle cx="313.3" cy="630.6" r="2.8" class="g"/>
<circle cx="327.0" cy="624.6" r="2.8" class="g"/>
<circle cx="317.4" cy="609.4" r="2.8" class="g"/>
<circle cx="317.8" cy="630.9" r="2.8" class="g"/>
<circle cx="309.5" cy="648.8" r="2.8" class="g"/>
<circle cx="325.8" cy="645.3" r="2.8" class="g"/>
<circle cx="315.8" cy="593.3" r="2.8" class="g"/>
<circle cx="329.9" cy="635.4" r="2.8" class="g"/>
<circle cx="322.7" cy="621.3" r="2.8" class="g"/>
<circle cx="315.9" cy="642.6" r="2.8" class="g"/>
<circle cx="327.6" cy="614.2" r="2.8" class="g"/>
<circle cx="316.2" cy="613.3" r="2.8" class="g"/>
<circle cx="298.1" cy="645.8" r="2.8" class="g"/>
<circle cx="297.7" cy="643.9" r="2.8" class="g"/>
<circle cx="321.7" cy="615.7" r="2.8" class="g"/>
<circle cx="321.0" cy="605.0" r="2.8" class="g"/>
<circle cx="314.1" cy="611.3" r="2.8" class="g"/>
<circle cx="321.6" cy="638.9" r="2.8" class="g"/>
<circle cx="304.5" cy="627.0" r="2.8" class="g"/>
<circle cx="304.0" cy="643.3" r="2.8" class="g"/>
<circle cx="330.0" cy="635.2" r="2.8" class="g"/>
<circle cx="300.1" cy="626.7" r="2.8" class="g"/>
<circle cx="303.0" cy="641.2" r="2.8" class="g"/>
<circle cx="303.5" cy="635.3" r="2.8" class="g"/>
<circle cx="304.3" cy="636.9" r="2.8" class="g"/>
<circle cx="326.0" cy="623.0" r="2.8" class="g"/>
<circle cx="312.8" cy="644.2" r="2.8" class="g"/>
<circle cx="336.9" cy="611.2" r="2.8" class="g"/>
<circle cx="311.9" cy="622.8" r="2.8" class="g"/>
<circle cx="312.5" cy="606.3" r="2.8" class="g"/>
<circle cx="316.4" cy="610.7" r="2.8" class="g"/>
<circle cx="314.5" cy="650.0" r="2.8" class="g"/>
<circle cx="319.3" cy="604.9" r="2.8" class="g"/>
<circle cx="315.8" cy="618.8" r="2.8" class="g"/>
<circle cx="305.1" cy="628.5" r="2.8" class="g"/>
<circle cx="310.0" cy="623.4" r="2.8" class="g"/>
<circle cx="318.8" cy="618.8" r="2.8" class="g"/>
<circle cx="330.6" cy="600.5" r="2.8" class="g"/>
<circle cx="310.9" cy="634.3" r="2.8" class="g"/>
<circle cx="335.2" cy="619.6" r="2.8" class="g"/>
<circle cx="306.2" cy="633.4" r="2.8" class="g"/>
<circle cx="312.5" cy="613.0" r="2.8" class="g"/>
<circle cx="314.7" cy="606.9" r="2.8" class="g"/>
<circle cx="317.3" cy="643.5" r="2.8" class="g"/>
<circle cx="301.5" cy="635.1" r="2.8" class="g"/>
<circle cx="307.7" cy="636.4" r="2.8" class="g"/>
<circle cx="314.2" cy="602.8" r="2.8" class="g"/>
<circle cx="318.9" cy="640.2" r="2.8" class="g"/>
<circle cx="316.8" cy="622.6" r="2.8" class="g"/>
<circle cx="319.9" cy="629.0" r="2.8" class="g"/>
<circle cx="322.2" cy="633.7" r="2.8" class="g"/>
<circle cx="308.9" cy="642.6" r="2.8" class="g"/>
<circle cx="312.1" cy="608.2" r="2.8" class="g"/>
<circle cx="299.1" cy="644.4" r="2.8" class="g"/>
<circle cx="302.4" cy="642.3" r="2.8" class="g"/>
<circle cx="299.6" cy="643.5" r="2.8" class="g"/>
<circle cx="314.4" cy="644.0" r="2.8" class="g"/>
<circle cx="311.0" cy="639.4" r="2.8" class="g"/>
<circle cx="309.9" cy="603.9" r="2.8" class="g"/>
<circle cx="325.9" cy="604.3" r="2.8" class="g"/>
<circle cx="314.7" cy="634.8" r="2.8" class="g"/>
<circle cx="304.4" cy="630.4" r="2.8" class="g"/>
<circle cx="311.0" cy="638.3" r="2.8" class="g"/>
<circle cx="315.3" cy="646.8" r="2.8" class="g"/>
<circle cx="315.8" cy="645.1" r="2.8" class="g"/>
<circle cx="341.7" cy="411.7" r="3" class="r"/>
<circle cx="337.3" cy="416.5" r="3" class="r"/>
<circle cx="343.1" cy="422.2" r="3" class="r"/>
<circle cx="339.8" cy="477.6" r="3" class="r"/>
<circle cx="370.2" cy="404.9" r="3" class="r"/>
<circle cx="391.3" cy="430.9" r="3" class="r"/>
<circle cx="371.2" cy="439.2" r="3" class="r"/>
<circle cx="366.7" cy="453.0" r="3" class="r"/>
<circle cx="409.2" cy="453.0" r="3" class="r"/>
<circle cx="411.5" cy="466.5" r="3" class="r"/>
<circle cx="425.4" cy="469.9" r="3" class="r"/>
<circle cx="388.1" cy="473.8" r="3" class="r"/>
<circle cx="393.3" cy="475.1" r="3" class="r"/>
<circle cx="463.5" cy="424.1" r="3" class="r"/>
<circle cx="462.4" cy="481.7" r="3" class="r"/>
<circle cx="410.4" cy="496.8" r="3" class="r"/>
<circle cx="386.7" cy="498.7" r="3" class="r"/>
<circle cx="330.8" cy="483.1" r="3" class="r"/>
<circle cx="334.6" cy="481.5" r="3" class="r"/>
<circle cx="334.6" cy="487.3" r="3" class="r"/>
<circle cx="347.1" cy="497.9" r="3" class="r"/>
<circle cx="345.8" cy="521.0" r="3" class="r"/>
<circle cx="345.2" cy="527.7" r="3" class="r"/>
<circle cx="344.2" cy="530.6" r="3" class="r"/>
<circle cx="330.8" cy="537.9" r="3" class="r"/>
<circle cx="339.4" cy="540.2" r="3" class="r"/>
<circle cx="344.2" cy="539.2" r="3" class="r"/>
<circle cx="346.2" cy="542.7" r="3" class="r"/>
<circle cx="333.3" cy="548.8" r="3" class="r"/>
<circle cx="334.6" cy="554.6" r="3" class="r"/>
<circle cx="328.8" cy="561.9" r="3" class="r"/>
<circle cx="334.6" cy="562.3" r="3" class="r"/>
<circle cx="339.4" cy="562.3" r="3" class="r"/>
<circle cx="331.7" cy="567.1" r="3" class="r"/>
<circle cx="348.1" cy="566.2" r="3" class="r"/>
<circle cx="360.2" cy="488.3" r="3" class="r"/>
<circle cx="358.3" cy="492.7" r="3" class="r"/>
<circle cx="367.5" cy="489.2" r="3" class="r"/>
<circle cx="373.3" cy="495.0" r="3" class="r"/>
<circle cx="379.0" cy="499.4" r="3" class="r"/>
<circle cx="410.6" cy="496.9" r="3" class="r"/>
<circle cx="362.7" cy="514.8" r="3" class="r"/>
<circle cx="387.7" cy="519.6" r="3" class="r"/>
<circle cx="407.7" cy="515.2" r="3" class="r"/>
<circle cx="347.7" cy="528.1" r="3" class="r"/>
<circle cx="361.7" cy="531.5" r="3" class="r"/>
<circle cx="437.1" cy="536.3" r="3" class="r"/>
<circle cx="386.2" cy="543.5" r="3" class="r"/>
<circle cx="371.2" cy="548.8" r="3" class="r"/>
<circle cx="413.1" cy="547.9" r="3" class="r"/>
<circle cx="421.2" cy="551.3" r="3" class="r"/>
<circle cx="398.1" cy="554.0" r="3" class="r"/>
<circle cx="362.1" cy="560.0" r="3" class="r"/>
<circle cx="360.2" cy="562.3" r="3" class="r"/>
<circle cx="360.2" cy="568.5" r="3" class="r"/>
<circle cx="446.9" cy="515.4" r="3" class="r"/>
<circle cx="466.5" cy="516.3" r="3" class="r"/>
<circle cx="445.0" cy="526.0" r="3" class="r"/>
<circle cx="475.8" cy="584.6" r="3" class="r"/>
<circle cx="421.0" cy="589.0" r="3" class="r"/>
<circle cx="360.2" cy="569.2" r="3" class="r"/>
<circle cx="341.0" cy="570.6" r="3" class="r"/>
<circle cx="343.8" cy="573.5" r="3" class="r"/>
<circle cx="346.7" cy="576.3" r="3" class="r"/>
<circle cx="355.4" cy="581.2" r="3" class="r"/>
<circle cx="361.2" cy="579.2" r="3" class="r"/>
<circle cx="357.3" cy="585.0" r="3" class="r"/>
<circle cx="348.7" cy="587.9" r="3" class="r"/>
<circle cx="350.6" cy="592.7" r="3" class="r"/>
<circle cx="362.1" cy="592.7" r="3" class="r"/>
<circle cx="372.7" cy="589.8" r="3" class="r"/>
<circle cx="390.4" cy="587.3" r="3" class="r"/>
<circle cx="398.1" cy="593.1" r="3" class="r"/>
<circle cx="420.4" cy="588.8" r="3" class="r"/>
<circle cx="340.0" cy="592.7" r="3" class="r"/>
<circle cx="334.0" cy="584.1" r="3" class="r"/>
<circle cx="332.3" cy="586.7" r="3" class="r"/>
<circle cx="331.0" cy="568.5" r="3" class="r"/>
<circle cx="333.8" cy="574.2" r="3" class="r"/>
<circle cx="337.3" cy="576.5" r="3" class="r"/>
<circle cx="340.8" cy="570.8" r="3" class="r"/>
<circle cx="343.1" cy="573.1" r="3" class="r"/>
<circle cx="346.0" cy="576.5" r="3" class="r"/>
<circle cx="331.5" cy="572.5" r="3" class="r"/>
<circle cx="335.0" cy="569.6" r="3" class="r"/>
<rect x="69.2" y="377.8" width="445.40000000000003" height="301.2" fill="none" stroke="#bdbdbd" stroke-width="1.2"/>
<line x1="68.60000000000001" y1="679.0" x2="515.2" y2="679.0" stroke="#707070" stroke-width="1.3"/>
<line x1="65.7" y1="665.7" x2="69.2" y2="665.7" stroke="#555" stroke-width="1.2"/>
<text x="62.6" y="672.7" font-size="18.8" text-anchor="end" fill="#4d4d4d">0</text>
<line x1="65.7" y1="610.8000000000001" x2="69.2" y2="610.8000000000001" stroke="#555" stroke-width="1.2"/>
<text x="62.6" y="617.8000000000001" font-size="18.8" text-anchor="end" fill="#4d4d4d">1</text>
<line x1="65.7" y1="555.9000000000001" x2="69.2" y2="555.9000000000001" stroke="#555" stroke-width="1.2"/>
<text x="62.6" y="562.9000000000001" font-size="18.8" text-anchor="end" fill="#4d4d4d">2</text>
<line x1="65.7" y1="501.00000000000006" x2="69.2" y2="501.00000000000006" stroke="#555" stroke-width="1.2"/>
<text x="62.6" y="508.00000000000006" font-size="18.8" text-anchor="end" fill="#4d4d4d">3</text>
<line x1="65.7" y1="446.1" x2="69.2" y2="446.1" stroke="#555" stroke-width="1.2"/>
<text x="62.6" y="453.1" font-size="18.8" text-anchor="end" fill="#4d4d4d">4</text>
<line x1="65.7" y1="391.20000000000005" x2="69.2" y2="391.20000000000005" stroke="#555" stroke-width="1.2"/>
<text x="62.6" y="398.20000000000005" font-size="18.8" text-anchor="end" fill="#4d4d4d">5</text>
<line x1="70.29000000000002" y1="679.0" x2="70.29000000000002" y2="682.5" stroke="#555" stroke-width="1.2"/>
<text x="70.29000000000002" y="699.8" font-size="18.8" text-anchor="middle" fill="#4d4d4d">-6</text>
<line x1="181.17000000000002" y1="679.0" x2="181.17000000000002" y2="682.5" stroke="#555" stroke-width="1.2"/>
<text x="181.17000000000002" y="699.8" font-size="18.8" text-anchor="middle" fill="#4d4d4d">-3</text>
<line x1="292.05" y1="679.0" x2="292.05" y2="682.5" stroke="#555" stroke-width="1.2"/>
<text x="292.05" y="699.8" font-size="18.8" text-anchor="middle" fill="#4d4d4d">0</text>
<line x1="402.93" y1="679.0" x2="402.93" y2="682.5" stroke="#555" stroke-width="1.2"/>
<text x="402.93" y="699.8" font-size="18.8" text-anchor="middle" fill="#4d4d4d">3</text>
<line x1="513.81" y1="679.0" x2="513.81" y2="682.5" stroke="#555" stroke-width="1.2"/>
<text x="513.81" y="699.8" font-size="18.8" text-anchor="middle" fill="#4d4d4d">6</text>
<text x="290.8" y="719.6" font-size="17.2" font-weight="bold" text-anchor="middle" fill="#000">Log2(MLL-AF4/Other)</text>
<text transform="translate(40.6,526) rotate(-90)" font-size="16.7" font-weight="bold" text-anchor="middle" fill="#000">-Log10(p-value)</text>
<text x="2" y="374.6" font-size="36" font-weight="bold" fill="#000">B</text>
</svg>
</body></html>
